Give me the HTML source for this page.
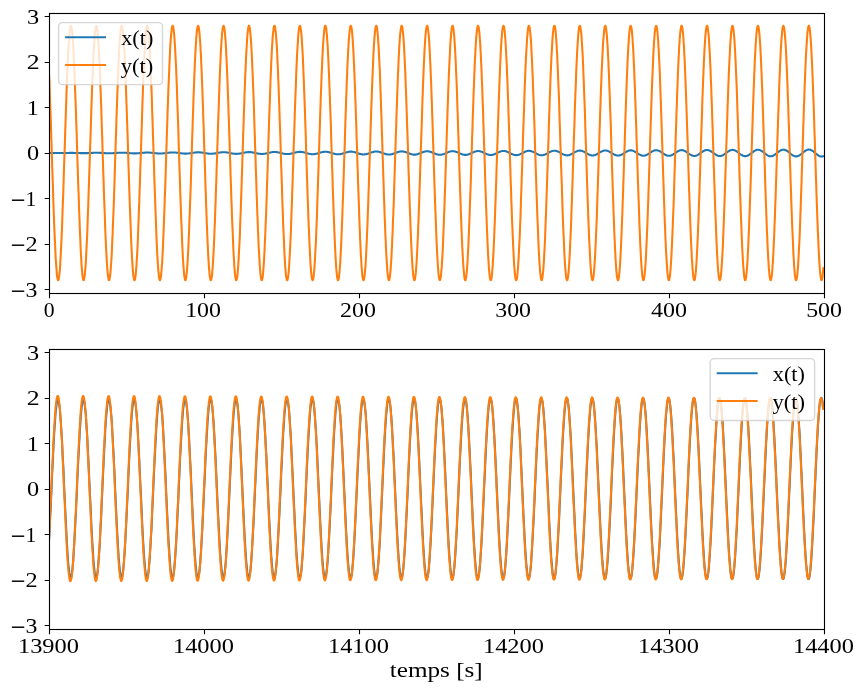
<!DOCTYPE html>
<html><head><meta charset="utf-8"><title>x(t), y(t)</title>
<style>html,body{margin:0;padding:0;background:#fff;width:864px;height:690px;overflow:hidden}
svg{display:block}
.t{font-family:"Liberation Serif",serif;fill:#000;filter:grayscale(100%)}</style></head>
<body>
<svg width="864" height="690" viewBox="0 0 864 690">
<rect width="864" height="690" fill="#fff"/>
<clipPath id="c13"><rect x="49" y="13" width="776" height="280"/></clipPath>
<g clip-path="url(#c13)" fill="none" stroke-width="2.08" stroke-linecap="square" stroke-linejoin="round">
<path stroke="#1f77b4" d="M49.00 153.00 L49.4 153.00 49.7 153.00 50.0 153.00 50.4 153.00 50.8 153.00 51.1 153.00 51.5 153.00 51.8 153.00 52.1 153.00 52.5 153.00 52.9 153.00 53.2 153.01 53.5 153.01 53.9 153.01 54.2 153.01 54.6 153.02 55.0 153.02 55.3 153.02 55.6 153.02 56.0 153.03 56.4 153.03 56.7 153.03 57.0 153.04 57.4 153.04 57.8 153.04 58.1 153.04 58.5 153.04 58.8 153.04 59.1 153.04 59.5 153.05 59.9 153.05 60.2 153.04 60.5 153.04 60.9 153.04 61.2 153.04 61.6 153.04 62.0 153.03 62.3 153.03 62.6 153.03 63.0 153.02 63.4 153.02 63.7 153.01 64.0 153.01 64.4 153.00 64.8 153.00 65.1 152.99 65.5 152.98 65.8 152.98 66.2 152.97 66.5 152.96 66.8 152.96 67.2 152.95 67.5 152.94 67.9 152.94 68.2 152.93 68.6 152.92 69.0 152.92 69.3 152.91 69.7 152.91 70.0 152.91 70.3 152.90 70.7 152.90 71.0 152.90 71.4 152.90 71.8 152.90 72.1 152.90 72.5 152.90 72.8 152.90 73.2 152.91 73.5 152.91 73.8 152.92 74.2 152.92 74.5 152.93 74.9 152.94 75.2 152.94 75.6 152.95 76.0 152.96 76.3 152.97 76.7 152.98 77.0 152.99 77.3 153.00 77.7 153.01 78.0 153.03 78.4 153.04 78.8 153.05 79.1 153.06 79.5 153.07 79.8 153.08 80.2 153.09 80.5 153.10 80.8 153.11 81.2 153.12 81.5 153.13 81.9 153.14 82.2 153.14 82.6 153.15 82.9 153.15 83.3 153.16 83.7 153.16 84.0 153.16 84.3 153.16 84.7 153.16 85.0 153.15 85.4 153.15 85.8 153.14 86.1 153.14 86.4 153.13 86.8 153.12 87.2 153.11 87.5 153.10 87.8 153.09 88.2 153.08 88.5 153.06 88.9 153.05 89.2 153.03 89.6 153.02 89.9 153.00 90.3 152.98 90.7 152.97 91.0 152.95 91.3 152.94 91.7 152.92 92.0 152.90 92.4 152.89 92.8 152.87 93.1 152.86 93.4 152.85 93.8 152.83 94.2 152.82 94.5 152.81 94.8 152.81 95.2 152.80 95.5 152.79 95.9 152.79 96.2 152.79 96.6 152.78 96.9 152.78 97.3 152.79 97.7 152.79 98.0 152.80 98.3 152.80 98.7 152.81 99.0 152.82 99.4 152.83 99.8 152.85 100.1 152.86 100.4 152.88 100.8 152.89 101.2 152.91 101.5 152.93 101.8 152.95 102.2 152.97 102.5 152.99 102.9 153.01 103.2 153.03 103.6 153.06 103.9 153.08 104.3 153.10 104.7 153.12 105.0 153.14 105.3 153.16 105.7 153.17 106.0 153.19 106.4 153.21 106.8 153.22 107.1 153.23 107.4 153.25 107.8 153.25 108.2 153.26 108.5 153.27 108.8 153.27 109.2 153.27 109.5 153.27 109.9 153.27 110.2 153.27 110.6 153.26 110.9 153.25 111.3 153.24 111.7 153.23 112.0 153.21 112.3 153.20 112.7 153.18 113.0 153.16 113.4 153.14 113.8 153.12 114.1 153.09 114.5 153.07 114.8 153.05 115.1 153.02 115.5 152.99 115.8 152.97 116.2 152.94 116.5 152.91 116.9 152.89 117.2 152.86 117.6 152.84 117.9 152.82 118.3 152.79 118.6 152.77 119.0 152.75 119.3 152.74 119.7 152.72 120.0 152.71 120.4 152.69 120.8 152.68 121.1 152.68 121.4 152.67 121.8 152.67 122.1 152.67 122.5 152.67 122.8 152.68 123.2 152.68 123.5 152.69 123.9 152.71 124.2 152.72 124.6 152.74 124.9 152.76 125.3 152.78 125.6 152.80 126.0 152.82 126.3 152.85 126.7 152.88 127.0 152.91 127.4 152.94 127.8 152.97 128.1 153.00 128.4 153.03 128.8 153.06 129.1 153.09 129.5 153.12 129.8 153.15 130.2 153.18 130.6 153.21 130.9 153.23 131.2 153.26 131.6 153.28 131.9 153.30 132.3 153.32 132.6 153.34 133.0 153.36 133.3 153.37 133.7 153.38 134.1 153.38 134.4 153.39 134.8 153.39 135.1 153.39 135.4 153.38 135.8 153.37 136.1 153.36 136.5 153.35 136.8 153.33 137.2 153.31 137.6 153.29 137.9 153.27 138.2 153.24 138.6 153.22 138.9 153.19 139.3 153.15 139.6 153.12 140.0 153.09 140.3 153.05 140.7 153.02 141.1 152.98 141.4 152.94 141.8 152.91 142.1 152.87 142.4 152.84 142.8 152.80 143.1 152.77 143.5 152.74 143.8 152.71 144.2 152.68 144.6 152.66 144.9 152.63 145.2 152.61 145.6 152.60 145.9 152.58 146.3 152.57 146.6 152.56 147.0 152.56 147.3 152.55 147.7 152.55 148.1 152.56 148.4 152.57 148.8 152.58 149.1 152.59 149.4 152.61 149.8 152.63 150.1 152.66 150.5 152.68 150.8 152.71 151.2 152.74 151.6 152.78 151.9 152.81 152.2 152.85 152.6 152.89 152.9 152.93 153.3 152.97 153.6 153.01 154.0 153.05 154.3 153.09 154.7 153.13 155.1 153.17 155.4 153.21 155.8 153.25 156.1 153.28 156.4 153.32 156.8 153.35 157.1 153.38 157.5 153.41 157.8 153.43 158.2 153.45 158.6 153.47 158.9 153.48 159.2 153.49 159.6 153.50 159.9 153.50 160.3 153.50 160.6 153.50 161.0 153.49 161.3 153.48 161.7 153.46 162.1 153.45 162.4 153.42 162.8 153.40 163.1 153.37 163.4 153.34 163.8 153.30 164.1 153.27 164.5 153.23 164.8 153.19 165.2 153.14 165.6 153.10 165.9 153.05 166.2 153.01 166.6 152.96 166.9 152.92 167.3 152.87 167.6 152.82 168.0 152.78 168.3 152.74 168.7 152.70 169.1 152.66 169.4 152.62 169.8 152.59 170.1 152.56 170.4 152.53 170.8 152.50 171.1 152.48 171.5 152.47 171.8 152.45 172.2 152.44 172.6 152.44 172.9 152.44 173.2 152.44 173.6 152.45 173.9 152.46 174.3 152.48 174.6 152.50 175.0 152.52 175.3 152.55 175.7 152.58 176.1 152.61 176.4 152.65 176.8 152.69 177.1 152.73 177.4 152.78 177.8 152.82 178.2 152.87 178.5 152.92 178.8 152.97 179.2 153.02 179.5 153.08 179.9 153.13 180.2 153.18 180.6 153.23 180.9 153.27 181.3 153.32 181.7 153.36 182.0 153.40 182.3 153.44 182.7 153.48 183.0 153.51 183.4 153.54 183.8 153.56 184.1 153.58 184.4 153.60 184.8 153.61 185.1 153.62 185.5 153.62 185.8 153.62 186.2 153.61 186.5 153.60 186.9 153.58 187.2 153.56 187.6 153.54 187.9 153.51 188.3 153.48 188.6 153.44 189.0 153.40 189.3 153.36 189.7 153.31 190.0 153.26 190.4 153.21 190.8 153.16 191.1 153.10 191.4 153.05 191.8 152.99 192.1 152.94 192.5 152.88 192.8 152.83 193.2 152.77 193.5 152.72 193.9 152.67 194.2 152.62 194.6 152.57 194.9 152.53 195.3 152.49 195.6 152.45 196.0 152.42 196.3 152.39 196.7 152.37 197.0 152.35 197.4 152.34 197.8 152.33 198.1 152.32 198.4 152.32 198.8 152.33 199.1 152.34 199.5 152.36 199.8 152.38 200.2 152.40 200.5 152.43 200.9 152.47 201.2 152.51 201.6 152.55 201.9 152.59 202.3 152.64 202.6 152.70 203.0 152.75 203.3 152.81 203.7 152.87 204.0 152.93 204.4 152.99 204.8 153.05 205.1 153.11 205.4 153.17 205.8 153.23 206.1 153.29 206.5 153.34 206.8 153.40 207.2 153.45 207.5 153.50 207.9 153.54 208.2 153.58 208.6 153.62 208.9 153.65 209.3 153.68 209.6 153.70 210.0 153.72 210.3 153.73 210.7 153.73 211.0 153.74 211.4 153.73 211.8 153.72 212.1 153.71 212.4 153.68 212.8 153.66 213.1 153.63 213.5 153.59 213.8 153.55 214.2 153.51 214.5 153.46 214.9 153.41 215.2 153.35 215.6 153.29 215.9 153.23 216.3 153.17 216.6 153.10 217.0 153.04 217.3 152.97 217.7 152.91 218.0 152.84 218.4 152.78 218.8 152.71 219.1 152.65 219.4 152.59 219.8 152.54 220.1 152.48 220.5 152.43 220.8 152.39 221.2 152.35 221.5 152.31 221.9 152.28 222.2 152.25 222.6 152.23 222.9 152.22 223.3 152.21 223.6 152.21 224.0 152.21 224.3 152.22 224.7 152.23 225.0 152.25 225.4 152.28 225.8 152.31 226.1 152.35 226.4 152.39 226.8 152.44 227.1 152.49 227.5 152.54 227.8 152.60 228.2 152.66 228.5 152.73 228.9 152.80 229.2 152.86 229.6 152.93 229.9 153.01 230.3 153.08 230.6 153.15 231.0 153.22 231.3 153.29 231.7 153.35 232.0 153.42 232.4 153.48 232.8 153.54 233.1 153.59 233.4 153.64 233.8 153.69 234.1 153.73 234.5 153.76 234.8 153.79 235.2 153.82 235.5 153.83 235.9 153.85 236.2 153.85 236.6 153.85 236.9 153.84 237.3 153.83 237.6 153.81 238.0 153.78 238.3 153.75 238.7 153.71 239.0 153.67 239.4 153.62 239.8 153.57 240.1 153.51 240.4 153.45 240.8 153.38 241.1 153.32 241.5 153.24 241.8 153.17 242.2 153.10 242.5 153.02 242.9 152.95 243.2 152.87 243.6 152.79 243.9 152.72 244.3 152.65 244.6 152.58 245.0 152.51 245.3 152.45 245.7 152.39 246.0 152.33 246.4 152.28 246.8 152.24 247.1 152.20 247.4 152.16 247.8 152.14 248.1 152.12 248.5 152.10 248.8 152.09 249.2 152.09 249.5 152.10 249.9 152.11 250.2 152.13 250.6 152.15 250.9 152.19 251.3 152.22 251.6 152.27 252.0 152.32 252.3 152.37 252.7 152.43 253.0 152.50 253.4 152.57 253.8 152.64 254.1 152.71 254.4 152.79 254.8 152.87 255.1 152.95 255.5 153.03 255.8 153.11 256.2 153.19 256.5 153.27 256.9 153.35 257.2 153.42 257.6 153.50 257.9 153.56 258.3 153.63 258.6 153.69 259.0 153.75 259.4 153.80 259.7 153.84 260.0 153.88 260.4 153.91 260.8 153.93 261.1 153.95 261.4 153.96 261.8 153.97 262.1 153.96 262.5 153.95 262.9 153.94 263.2 153.91 263.5 153.88 263.9 153.84 264.2 153.80 264.6 153.74 264.9 153.69 265.3 153.63 265.6 153.56 266.0 153.49 266.4 153.41 266.7 153.33 267.0 153.25 267.4 153.17 267.8 153.08 268.1 153.00 268.4 152.91 268.8 152.83 269.1 152.74 269.5 152.66 269.9 152.58 270.2 152.50 270.5 152.43 270.9 152.36 271.2 152.29 271.6 152.23 271.9 152.17 272.3 152.13 272.6 152.08 273.0 152.05 273.4 152.02 273.7 152.00 274.0 151.98 274.4 151.98 274.8 151.98 275.1 151.99 275.4 152.00 275.8 152.03 276.1 152.06 276.5 152.09 276.9 152.14 277.2 152.19 277.5 152.25 277.9 152.31 278.2 152.38 278.6 152.46 278.9 152.53 279.3 152.62 279.6 152.70 280.0 152.79 280.4 152.88 280.7 152.97 281.0 153.06 281.4 153.15 281.8 153.24 282.1 153.33 282.4 153.42 282.8 153.50 283.1 153.58 283.5 153.66 283.9 153.73 284.2 153.79 284.5 153.85 284.9 153.91 285.2 153.95 285.6 153.99 285.9 154.03 286.3 154.05 286.6 154.07 287.0 154.08 287.4 154.08 287.7 154.08 288.0 154.06 288.4 154.04 288.8 154.01 289.1 153.97 289.4 153.93 289.8 153.87 290.1 153.81 290.5 153.75 290.9 153.68 291.2 153.60 291.5 153.52 291.9 153.44 292.2 153.35 292.6 153.26 292.9 153.16 293.3 153.07 293.6 152.97 294.0 152.87 294.4 152.78 294.7 152.68 295.0 152.59 295.4 152.50 295.8 152.42 296.1 152.34 296.4 152.26 296.8 152.19 297.1 152.12 297.5 152.06 297.9 152.01 298.2 151.97 298.5 151.93 298.9 151.90 299.2 151.88 299.6 151.86 299.9 151.86 300.3 151.86 300.6 151.88 301.0 151.90 301.4 151.93 301.7 151.96 302.0 152.01 302.4 152.06 302.8 152.12 303.1 152.19 303.4 152.26 303.8 152.34 304.1 152.42 304.5 152.51 304.9 152.60 305.2 152.70 305.6 152.80 305.9 152.89 306.2 153.00 306.6 153.10 306.9 153.20 307.3 153.30 307.6 153.39 308.0 153.49 308.3 153.58 308.7 153.67 309.1 153.75 309.4 153.83 309.8 153.90 310.1 153.96 310.4 154.02 310.8 154.07 311.1 154.11 311.5 154.15 311.8 154.17 312.2 154.19 312.6 154.20 312.9 154.20 313.2 154.19 313.6 154.17 313.9 154.14 314.3 154.10 314.6 154.06 315.0 154.01 315.3 153.95 315.7 153.88 316.1 153.81 316.4 153.72 316.8 153.64 317.1 153.55 317.4 153.45 317.8 153.35 318.1 153.25 318.5 153.15 318.8 153.04 319.2 152.94 319.5 152.83 319.9 152.73 320.2 152.62 320.6 152.52 320.9 152.42 321.3 152.33 321.6 152.24 322.0 152.16 322.3 152.08 322.7 152.01 323.0 151.95 323.4 151.89 323.8 151.85 324.1 151.81 324.4 151.78 324.8 151.76 325.1 151.75 325.5 151.74 325.8 151.75 326.2 151.77 326.5 151.79 326.9 151.83 327.2 151.87 327.6 151.92 327.9 151.98 328.3 152.05 328.6 152.13 329.0 152.21 329.3 152.30 329.7 152.39 330.0 152.49 330.4 152.59 330.8 152.70 331.1 152.81 331.4 152.92 331.8 153.03 332.1 153.14 332.5 153.25 332.8 153.36 333.2 153.46 333.5 153.57 333.9 153.67 334.2 153.76 334.6 153.85 334.9 153.93 335.3 154.01 335.6 154.08 336.0 154.14 336.3 154.19 336.7 154.23 337.0 154.27 337.4 154.29 337.8 154.31 338.1 154.31 338.4 154.31 338.8 154.30 339.1 154.27 339.5 154.24 339.8 154.20 340.2 154.15 340.5 154.09 340.9 154.02 341.2 153.94 341.6 153.86 341.9 153.77 342.3 153.67 342.6 153.57 343.0 153.46 343.3 153.35 343.7 153.24 344.0 153.13 344.4 153.01 344.8 152.90 345.1 152.78 345.4 152.67 345.8 152.55 346.1 152.45 346.5 152.34 346.8 152.24 347.2 152.14 347.5 152.06 347.9 151.97 348.2 151.90 348.6 151.83 348.9 151.78 349.3 151.73 349.6 151.69 350.0 151.66 350.3 151.64 350.7 151.63 351.0 151.63 351.4 151.64 351.8 151.66 352.1 151.69 352.4 151.73 352.8 151.78 353.1 151.84 353.5 151.91 353.8 151.99 354.2 152.07 354.5 152.17 354.9 152.26 355.2 152.37 355.6 152.48 355.9 152.59 356.3 152.71 356.6 152.82 357.0 152.95 357.3 153.07 357.7 153.19 358.0 153.31 358.4 153.42 358.8 153.54 359.1 153.65 359.4 153.76 359.8 153.86 360.1 153.95 360.5 154.04 360.8 154.12 361.2 154.19 361.5 154.26 361.9 154.31 362.2 154.35 362.6 154.39 362.9 154.41 363.3 154.43 363.6 154.43 364.0 154.42 364.3 154.40 364.7 154.37 365.0 154.34 365.4 154.29 365.8 154.23 366.1 154.16 366.4 154.08 366.8 154.00 367.1 153.90 367.5 153.80 367.8 153.70 368.2 153.59 368.5 153.47 368.9 153.35 369.2 153.23 369.6 153.10 369.9 152.98 370.3 152.85 370.6 152.72 371.0 152.60 371.3 152.48 371.7 152.36 372.0 152.25 372.4 152.14 372.8 152.04 373.1 151.95 373.4 151.86 373.8 151.78 374.1 151.72 374.5 151.66 374.8 151.61 375.2 151.57 375.5 151.54 375.9 151.52 376.2 151.51 376.6 151.52 376.9 151.53 377.3 151.56 377.6 151.60 378.0 151.64 378.3 151.70 378.7 151.77 379.0 151.85 379.4 151.93 379.8 152.03 380.1 152.13 380.4 152.24 380.8 152.35 381.1 152.47 381.5 152.59 381.8 152.72 382.2 152.85 382.5 152.98 382.9 153.11 383.2 153.24 383.6 153.37 383.9 153.50 384.3 153.62 384.6 153.74 385.0 153.85 385.3 153.96 385.7 154.06 386.0 154.15 386.4 154.24 386.8 154.31 387.1 154.38 387.4 154.43 387.8 154.48 388.1 154.51 388.5 154.53 388.8 154.54 389.2 154.54 389.5 154.53 389.9 154.51 390.2 154.47 390.6 154.43 390.9 154.37 391.3 154.30 391.6 154.23 392.0 154.14 392.3 154.05 392.7 153.94 393.0 153.83 393.4 153.72 393.8 153.60 394.1 153.47 394.4 153.34 394.8 153.20 395.1 153.07 395.5 152.93 395.8 152.80 396.2 152.66 396.5 152.53 396.9 152.40 397.2 152.28 397.6 152.16 397.9 152.04 398.3 151.94 398.6 151.84 399.0 151.75 399.3 151.67 399.7 151.59 400.0 151.53 400.4 151.48 400.8 151.44 401.1 151.42 401.4 151.40 401.8 151.40 402.1 151.41 402.5 151.43 402.8 151.46 403.2 151.50 403.5 151.56 403.9 151.62 404.2 151.70 404.6 151.78 404.9 151.88 405.3 151.98 405.6 152.09 406.0 152.21 406.3 152.34 406.7 152.47 407.0 152.60 407.4 152.74 407.8 152.88 408.1 153.02 408.4 153.16 408.8 153.30 409.1 153.44 409.5 153.57 409.8 153.70 410.2 153.83 410.5 153.95 410.9 154.06 411.2 154.17 411.6 154.27 411.9 154.35 412.3 154.43 412.6 154.50 413.0 154.55 413.3 154.60 413.7 154.63 414.0 154.65 414.4 154.66 414.8 154.66 415.1 154.64 415.4 154.61 415.8 154.57 416.1 154.52 416.5 154.45 416.8 154.38 417.2 154.29 417.5 154.20 417.9 154.09 418.2 153.98 418.6 153.86 418.9 153.73 419.3 153.60 419.6 153.46 420.0 153.32 420.3 153.18 420.7 153.03 421.0 152.89 421.4 152.74 421.8 152.60 422.1 152.46 422.4 152.32 422.8 152.19 423.1 152.06 423.5 151.94 423.8 151.83 424.2 151.72 424.5 151.63 424.9 151.55 425.2 151.47 425.6 151.41 425.9 151.36 426.3 151.32 426.6 151.30 427.0 151.28 427.3 151.28 427.7 151.30 428.0 151.32 428.4 151.36 428.8 151.41 429.1 151.47 429.4 151.54 429.8 151.63 430.1 151.72 430.5 151.83 430.8 151.94 431.2 152.07 431.5 152.19 431.9 152.33 432.2 152.47 432.6 152.62 432.9 152.76 433.3 152.91 433.6 153.06 434.0 153.22 434.3 153.37 434.7 153.51 435.0 153.66 435.4 153.79 435.8 153.93 436.1 154.05 436.4 154.17 436.8 154.28 437.1 154.38 437.5 154.47 437.8 154.55 438.2 154.62 438.5 154.68 438.9 154.72 439.2 154.75 439.6 154.77 439.9 154.78 440.3 154.77 440.6 154.75 441.0 154.71 441.3 154.66 441.7 154.60 442.0 154.53 442.4 154.45 442.8 154.35 443.1 154.25 443.4 154.13 443.8 154.01 444.1 153.88 444.5 153.74 444.8 153.60 445.2 153.45 445.5 153.30 445.9 153.14 446.2 152.99 446.6 152.83 446.9 152.68 447.3 152.52 447.6 152.37 448.0 152.23 448.3 152.09 448.7 151.96 449.0 151.83 449.4 151.71 449.8 151.61 450.1 151.51 450.4 151.42 450.8 151.35 451.1 151.29 451.5 151.24 451.8 151.20 452.2 151.18 452.5 151.17 452.9 151.17 453.2 151.19 453.6 151.22 453.9 151.26 454.3 151.32 454.6 151.39 455.0 151.47 455.3 151.57 455.7 151.67 456.0 151.79 456.4 151.91 456.8 152.04 457.1 152.18 457.4 152.33 457.8 152.48 458.1 152.64 458.5 152.80 458.8 152.96 459.2 153.12 459.5 153.28 459.9 153.44 460.2 153.59 460.6 153.74 460.9 153.89 461.3 154.03 461.6 154.16 462.0 154.28 462.3 154.40 462.7 154.50 463.0 154.60 463.4 154.68 463.8 154.75 464.1 154.80 464.4 154.85 464.8 154.88 465.1 154.89 465.5 154.89 465.8 154.88 466.2 154.85 466.5 154.81 466.9 154.75 467.2 154.69 467.6 154.61 467.9 154.51 468.3 154.41 468.6 154.29 469.0 154.17 469.3 154.04 469.7 153.89 470.0 153.75 470.4 153.59 470.8 153.43 471.1 153.27 471.4 153.10 471.8 152.94 472.1 152.77 472.5 152.61 472.8 152.45 473.2 152.29 473.5 152.14 473.9 151.99 474.2 151.85 474.6 151.72 474.9 151.60 475.3 151.49 475.6 151.39 476.0 151.30 476.3 151.22 476.7 151.16 477.0 151.11 477.4 151.08 477.8 151.06 478.1 151.05 478.4 151.06 478.8 151.08 479.1 151.12 479.5 151.17 479.8 151.24 480.2 151.31 480.5 151.41 480.9 151.51 481.2 151.62 481.6 151.75 481.9 151.88 482.3 152.03 482.6 152.18 483.0 152.33 483.3 152.50 483.7 152.66 484.0 152.83 484.4 153.00 484.8 153.17 485.1 153.34 485.4 153.51 485.8 153.68 486.1 153.83 486.5 153.99 486.8 154.13 487.2 154.27 487.5 154.40 487.9 154.52 488.2 154.63 488.6 154.72 488.9 154.80 489.3 154.87 489.6 154.93 490.0 154.97 490.3 155.00 490.7 155.01 491.0 155.00 491.4 154.99 491.8 154.95 492.1 154.90 492.4 154.84 492.8 154.77 493.1 154.68 493.5 154.57 493.8 154.46 494.2 154.33 494.5 154.20 494.9 154.06 495.2 153.90 495.6 153.74 495.9 153.58 496.3 153.41 496.6 153.23 497.0 153.06 497.3 152.88 497.7 152.71 498.0 152.53 498.4 152.36 498.7 152.20 499.1 152.04 499.4 151.88 499.8 151.74 500.1 151.60 500.5 151.48 500.8 151.36 501.2 151.26 501.5 151.17 501.9 151.10 502.2 151.03 502.6 150.99 502.9 150.95 503.3 150.94 503.6 150.94 504.0 150.95 504.3 150.98 504.7 151.02 505.0 151.08 505.4 151.15 505.7 151.24 506.1 151.34 506.4 151.46 506.8 151.58 507.1 151.72 507.5 151.86 507.8 152.02 508.2 152.18 508.5 152.35 508.9 152.52 509.2 152.70 509.6 152.88 509.9 153.06 510.3 153.24 510.6 153.42 511.0 153.59 511.3 153.77 511.7 153.93 512.0 154.09 512.4 154.24 512.8 154.39 513.1 154.52 513.5 154.64 513.8 154.75 514.1 154.85 514.5 154.93 514.8 155.00 515.2 155.05 515.5 155.09 515.9 155.12 516.2 155.12 516.6 155.12 517.0 155.09 517.3 155.05 517.6 155.00 518.0 154.93 518.3 154.84 518.7 154.74 519.0 154.63 519.4 154.51 519.8 154.37 520.1 154.22 520.5 154.07 520.8 153.90 521.1 153.73 521.5 153.56 521.8 153.38 522.2 153.19 522.5 153.01 522.9 152.82 523.2 152.64 523.6 152.45 524.0 152.28 524.3 152.10 524.6 151.94 525.0 151.78 525.3 151.63 525.7 151.48 526.0 151.36 526.4 151.24 526.8 151.13 527.1 151.04 527.5 150.97 527.8 150.91 528.1 150.86 528.5 150.83 528.8 150.82 529.2 150.82 529.5 150.84 529.9 150.88 530.2 150.93 530.6 151.00 531.0 151.08 531.3 151.17 531.6 151.28 532.0 151.41 532.3 151.54 532.7 151.69 533.0 151.85 533.4 152.01 533.8 152.18 534.1 152.36 534.5 152.55 534.8 152.73 535.1 152.92 535.5 153.12 535.8 153.31 536.2 153.49 536.5 153.68 536.9 153.86 537.2 154.03 537.6 154.20 538.0 154.36 538.3 154.51 538.6 154.64 539.0 154.77 539.3 154.88 539.7 154.98 540.0 155.06 540.4 155.13 540.8 155.18 541.1 155.22 541.5 155.24 541.8 155.24 542.1 155.22 542.5 155.19 542.8 155.15 543.2 155.08 543.5 155.00 543.9 154.91 544.2 154.80 544.6 154.68 545.0 154.55 545.3 154.40 545.6 154.24 546.0 154.08 546.3 153.90 546.7 153.72 547.0 153.53 547.4 153.34 547.8 153.15 548.1 152.95 548.5 152.75 548.8 152.56 549.1 152.37 549.5 152.18 549.8 152.00 550.2 151.83 550.5 151.66 550.9 151.51 551.2 151.36 551.6 151.23 552.0 151.11 552.3 151.01 552.6 150.91 553.0 150.84 553.3 150.78 553.7 150.74 554.0 150.71 554.4 150.70 554.8 150.71 555.1 150.74 555.5 150.78 555.8 150.84 556.1 150.91 556.5 151.00 556.8 151.11 557.2 151.23 557.5 151.36 557.9 151.51 558.2 151.67 558.6 151.83 559.0 152.01 559.3 152.20 559.6 152.39 560.0 152.58 560.3 152.78 560.7 152.98 561.0 153.18 561.4 153.38 561.8 153.58 562.1 153.77 562.4 153.96 562.8 154.14 563.1 154.31 563.5 154.48 563.9 154.63 564.2 154.77 564.5 154.90 564.9 155.01 565.2 155.11 565.6 155.19 565.9 155.26 566.3 155.31 566.6 155.34 567.0 155.35 567.4 155.35 567.7 155.33 568.0 155.29 568.4 155.24 568.8 155.17 569.1 155.08 569.4 154.98 569.8 154.86 570.1 154.73 570.5 154.58 570.9 154.42 571.2 154.26 571.5 154.08 571.9 153.89 572.2 153.70 572.6 153.50 572.9 153.30 573.3 153.09 573.6 152.89 574.0 152.68 574.4 152.48 574.7 152.28 575.0 152.08 575.4 151.90 575.8 151.72 576.1 151.55 576.4 151.39 576.8 151.24 577.1 151.10 577.5 150.98 577.9 150.87 578.2 150.78 578.5 150.71 578.9 150.65 579.2 150.61 579.6 150.59 579.9 150.59 580.3 150.60 580.6 150.63 581.0 150.68 581.4 150.75 581.7 150.83 582.0 150.94 582.4 151.05 582.8 151.18 583.1 151.33 583.4 151.48 583.8 151.65 584.1 151.83 584.5 152.02 584.9 152.21 585.2 152.41 585.5 152.62 585.9 152.83 586.2 153.04 586.6 153.25 586.9 153.46 587.3 153.67 587.6 153.87 588.0 154.06 588.3 154.25 588.7 154.43 589.0 154.60 589.4 154.75 589.8 154.90 590.1 155.03 590.4 155.14 590.8 155.24 591.1 155.32 591.5 155.38 591.8 155.43 592.2 155.46 592.5 155.47 592.9 155.46 593.2 155.44 593.6 155.39 593.9 155.33 594.3 155.25 594.6 155.15 595.0 155.04 595.3 154.91 595.7 154.77 596.0 154.61 596.4 154.44 596.8 154.26 597.1 154.07 597.4 153.88 597.8 153.67 598.1 153.46 598.5 153.25 598.8 153.03 599.2 152.82 599.5 152.60 599.9 152.39 600.2 152.18 600.6 151.98 600.9 151.79 601.3 151.60 601.6 151.42 602.0 151.26 602.3 151.11 602.7 150.97 603.0 150.85 603.4 150.74 603.8 150.65 604.1 150.58 604.4 150.53 604.8 150.49 605.1 150.47 605.5 150.47 605.8 150.50 606.2 150.53 606.5 150.59 606.9 150.67 607.2 150.76 607.6 150.87 607.9 151.00 608.3 151.14 608.6 151.29 609.0 151.46 609.3 151.64 609.7 151.83 610.0 152.03 610.4 152.24 610.8 152.45 611.1 152.67 611.4 152.89 611.8 153.11 612.1 153.33 612.5 153.55 612.8 153.76 613.2 153.97 613.5 154.17 613.9 154.37 614.2 154.55 614.6 154.72 614.9 154.88 615.3 155.03 615.6 155.16 616.0 155.27 616.3 155.37 616.7 155.45 617.0 155.51 617.4 155.56 617.8 155.58 618.1 155.59 618.4 155.57 618.8 155.54 619.1 155.49 619.5 155.42 619.8 155.33 620.2 155.22 620.5 155.10 620.9 154.96 621.2 154.80 621.6 154.64 621.9 154.46 622.3 154.26 622.6 154.06 623.0 153.86 623.3 153.64 623.7 153.42 624.0 153.19 624.4 152.97 624.8 152.74 625.1 152.52 625.4 152.30 625.8 152.08 626.1 151.87 626.5 151.67 626.8 151.48 627.2 151.30 627.5 151.13 627.9 150.98 628.2 150.84 628.6 150.72 628.9 150.61 629.3 150.52 629.6 150.45 630.0 150.40 630.3 150.37 630.7 150.36 631.0 150.36 631.4 150.39 631.8 150.44 632.1 150.50 632.4 150.59 632.8 150.69 633.1 150.81 633.5 150.95 633.8 151.10 634.2 151.27 634.5 151.45 634.9 151.64 635.2 151.84 635.6 152.05 635.9 152.27 636.3 152.49 636.6 152.72 637.0 152.95 637.3 153.18 637.7 153.41 638.0 153.64 638.4 153.86 638.8 154.08 639.1 154.29 639.4 154.48 639.8 154.67 640.1 154.85 640.5 155.01 640.8 155.16 641.2 155.29 641.5 155.41 641.9 155.50 642.2 155.58 642.6 155.64 642.9 155.68 643.3 155.70 643.6 155.70 644.0 155.68 644.3 155.64 644.7 155.58 645.0 155.50 645.4 155.40 645.8 155.28 646.1 155.15 646.4 155.00 646.8 154.83 647.1 154.65 647.5 154.46 647.8 154.26 648.2 154.05 648.5 153.83 648.9 153.60 649.2 153.37 649.6 153.13 649.9 152.90 650.3 152.66 650.6 152.43 651.0 152.20 651.3 151.98 651.7 151.76 652.0 151.55 652.4 151.36 652.8 151.17 653.1 151.00 653.4 150.85 653.8 150.70 654.1 150.58 654.5 150.48 654.8 150.39 655.2 150.32 655.5 150.27 655.9 150.25 656.2 150.24 656.6 150.25 656.9 150.29 657.3 150.34 657.6 150.42 658.0 150.51 658.3 150.63 658.7 150.76 659.0 150.90 659.4 151.07 659.8 151.24 660.1 151.44 660.4 151.64 660.8 151.85 661.1 152.07 661.5 152.30 661.8 152.54 662.2 152.78 662.5 153.02 662.9 153.26 663.2 153.50 663.6 153.73 663.9 153.96 664.3 154.19 664.6 154.40 665.0 154.61 665.3 154.80 665.7 154.98 666.0 155.15 666.4 155.29 666.8 155.43 667.1 155.54 667.4 155.64 667.8 155.71 668.1 155.77 668.5 155.80 668.8 155.82 669.2 155.81 669.5 155.78 669.9 155.73 670.2 155.66 670.6 155.58 670.9 155.47 671.3 155.34 671.6 155.20 672.0 155.03 672.3 154.86 672.7 154.67 673.0 154.46 673.4 154.25 673.8 154.03 674.1 153.79 674.4 153.56 674.8 153.31 675.1 153.07 675.5 152.82 675.8 152.58 676.2 152.33 676.5 152.10 676.9 151.87 677.2 151.64 677.6 151.43 677.9 151.23 678.3 151.04 678.6 150.87 679.0 150.71 679.3 150.57 679.7 150.45 680.0 150.34 680.4 150.26 680.8 150.19 681.1 150.15 681.4 150.13 681.8 150.13 682.1 150.15 682.5 150.19 682.8 150.25 683.2 150.34 683.5 150.44 683.9 150.56 684.2 150.71 684.6 150.86 684.9 151.04 685.3 151.23 685.6 151.43 686.0 151.65 686.3 151.87 686.7 152.11 687.0 152.35 687.4 152.59 687.8 152.84 688.1 153.09 688.4 153.34 688.8 153.59 689.1 153.84 689.5 154.07 689.8 154.30 690.2 154.53 690.5 154.73 690.9 154.93 691.2 155.11 691.6 155.28 691.9 155.43 692.3 155.56 692.6 155.68 693.0 155.77 693.3 155.84 693.7 155.89 694.0 155.92 694.4 155.93 694.8 155.92 695.1 155.88 695.4 155.83 695.8 155.75 696.1 155.65 696.5 155.53 696.8 155.39 697.2 155.24 697.5 155.07 697.9 154.88 698.2 154.67 698.6 154.46 698.9 154.23 699.3 154.00 699.6 153.75 700.0 153.50 700.3 153.25 700.7 153.00 701.0 152.74 701.4 152.49 701.8 152.23 702.1 151.99 702.4 151.75 702.8 151.52 703.1 151.30 703.5 151.10 703.8 150.91 704.2 150.73 704.5 150.57 704.9 150.43 705.2 150.31 705.6 150.21 705.9 150.12 706.3 150.06 706.6 150.03 707.0 150.01 707.3 150.02 707.7 150.04 708.0 150.09 708.4 150.17 708.8 150.26 709.1 150.37 709.4 150.51 709.8 150.66 710.1 150.83 710.5 151.02 710.8 151.22 711.2 151.43 711.5 151.66 711.9 151.90 712.2 152.14 712.6 152.40 712.9 152.65 713.3 152.91 713.6 153.17 714.0 153.43 714.3 153.69 714.7 153.94 715.0 154.19 715.4 154.42 715.8 154.65 716.1 154.87 716.4 155.07 716.8 155.25 717.1 155.42 717.5 155.57 717.8 155.70 718.2 155.81 718.5 155.90 718.9 155.97 719.2 156.02 719.6 156.05 719.9 156.05 720.3 156.03 720.6 155.98 721.0 155.92 721.3 155.83 721.7 155.72 722.0 155.59 722.4 155.44 722.8 155.27 723.1 155.09 723.4 154.89 723.8 154.68 724.1 154.45 724.5 154.21 724.8 153.96 725.2 153.71 725.5 153.45 725.9 153.18 726.2 152.92 726.6 152.65 726.9 152.39 727.3 152.13 727.6 151.88 728.0 151.63 728.3 151.40 728.7 151.17 729.0 150.97 729.4 150.77 729.8 150.59 730.1 150.43 730.4 150.29 730.8 150.17 731.1 150.07 731.5 149.99 731.8 149.94 732.2 149.90 732.5 149.89 732.9 149.91 733.2 149.94 733.6 150.00 733.9 150.08 734.3 150.19 734.6 150.31 735.0 150.46 735.3 150.62 735.7 150.80 736.0 151.00 736.4 151.21 736.8 151.44 737.1 151.68 737.4 151.93 737.8 152.19 738.1 152.45 738.5 152.72 738.8 152.99 739.2 153.26 739.5 153.53 739.9 153.79 740.2 154.05 740.6 154.31 740.9 154.55 741.3 154.78 741.6 155.00 742.0 155.20 742.3 155.39 742.7 155.56 743.0 155.71 743.4 155.84 743.8 155.95 744.1 156.04 744.4 156.10 744.8 156.15 745.1 156.16 745.5 156.16 745.8 156.13 746.2 156.08 746.5 156.00 746.9 155.90 747.2 155.79 747.6 155.65 747.9 155.48 748.3 155.31 748.6 155.11 749.0 154.90 749.3 154.67 749.7 154.43 750.0 154.18 750.4 153.92 750.8 153.65 751.1 153.38 751.4 153.11 751.8 152.83 752.1 152.56 752.5 152.29 752.8 152.02 753.2 151.76 753.5 151.51 753.9 151.27 754.2 151.04 754.6 150.83 754.9 150.63 755.3 150.45 755.6 150.29 756.0 150.15 756.3 150.03 756.7 149.93 757.0 149.86 757.4 149.81 757.8 149.78 758.1 149.78 758.4 149.80 758.8 149.84 759.1 149.91 759.5 150.00 759.8 150.12 760.2 150.25 760.5 150.41 760.9 150.59 761.2 150.78 761.6 150.99 761.9 151.22 762.3 151.46 762.6 151.71 763.0 151.97 763.3 152.24 763.7 152.51 764.0 152.79 764.4 153.07 764.8 153.35 765.1 153.63 765.4 153.90 765.8 154.17 766.1 154.43 766.5 154.68 766.8 154.91 767.2 155.14 767.5 155.34 767.9 155.53 768.2 155.70 768.6 155.85 768.9 155.98 769.3 156.09 769.6 156.17 770.0 156.23 770.3 156.27 770.7 156.28 771.0 156.27 771.4 156.23 771.8 156.17 772.1 156.08 772.4 155.98 772.8 155.85 773.1 155.69 773.5 155.52 773.8 155.33 774.2 155.12 774.5 154.90 774.9 154.66 775.2 154.41 775.6 154.15 775.9 153.87 776.3 153.60 776.6 153.31 777.0 153.03 777.3 152.74 777.7 152.46 778.0 152.18 778.4 151.90 778.8 151.64 779.1 151.38 779.4 151.13 779.8 150.90 780.1 150.69 780.5 150.49 780.8 150.31 781.2 150.15 781.5 150.01 781.9 149.89 782.2 149.80 782.6 149.73 782.9 149.68 783.3 149.66 783.6 149.67 784.0 149.70 784.3 149.75 784.7 149.83 785.0 149.93 785.4 150.05 785.8 150.20 786.1 150.37 786.4 150.56 786.8 150.76 787.1 150.99 787.5 151.22 787.8 151.48 788.2 151.74 788.5 152.01 788.9 152.29 789.2 152.58 789.6 152.87 789.9 153.16 790.3 153.45 790.6 153.74 791.0 154.02 791.3 154.29 791.7 154.56 792.0 154.81 792.4 155.05 792.8 155.28 793.1 155.49 793.4 155.68 793.8 155.85 794.1 155.99 794.5 156.12 794.8 156.23 795.2 156.30 795.5 156.36 795.9 156.39 796.2 156.39 796.6 156.37 796.9 156.33 797.3 156.26 797.6 156.16 798.0 156.04 798.3 155.90 798.7 155.74 799.0 155.56 799.4 155.35 799.8 155.13 800.1 154.89 800.4 154.64 800.8 154.38 801.1 154.10 801.5 153.82 801.8 153.53 802.2 153.24 802.5 152.94 802.9 152.65 803.2 152.35 803.6 152.06 803.9 151.78 804.3 151.51 804.6 151.25 805.0 151.00 805.3 150.76 805.7 150.55 806.0 150.35 806.4 150.16 806.8 150.01 807.1 149.87 807.4 149.75 807.8 149.66 808.1 149.60 808.5 149.56 808.8 149.55 809.2 149.56 809.5 149.60 809.9 149.66 810.2 149.75 810.6 149.86 810.9 149.99 811.3 150.15 811.6 150.33 812.0 150.53 812.3 150.75 812.7 150.99 813.0 151.24 813.4 151.50 813.8 151.78 814.1 152.06 814.4 152.36 814.8 152.65 815.1 152.95 815.5 153.25 815.8 153.55 816.2 153.85 816.5 154.14 816.9 154.42 817.2 154.69 817.6 154.95 817.9 155.19 818.3 155.42 818.6 155.63 819.0 155.82 819.3 155.99 819.7 156.14 820.0 156.26 820.4 156.36 820.8 156.44 821.1 156.49 821.4 156.51 821.8 156.51 822.1 156.48 822.5 156.42 822.8 156.34 823.2 156.24 823.4 156.18"/>
<path stroke="#ff7f0e" d="M49.00 71.98 L49.4 80.75 49.7 90.07 50.0 99.85 50.4 110.03 50.8 120.53 51.1 131.27 51.5 142.18 51.8 153.16 52.1 164.15 52.5 175.05 52.9 185.79 53.2 196.28 53.5 206.45 53.9 216.22 54.2 225.52 54.6 234.27 55.0 242.42 55.3 249.91 55.6 256.67 56.0 262.65 56.4 267.82 56.7 272.13 57.0 275.55 57.4 278.06 57.8 279.63 58.1 280.26 58.5 279.94 58.8 278.67 59.1 276.46 59.5 273.33 59.9 269.31 60.2 264.41 60.5 258.69 60.9 252.17 61.2 244.92 61.6 236.97 62.0 228.41 62.3 219.28 62.6 209.65 63.0 199.60 63.4 189.21 63.7 178.54 64.0 167.68 64.4 156.72 64.8 145.72 65.1 134.78 65.5 123.98 65.8 113.39 66.2 103.10 66.5 93.18 66.8 83.71 67.2 74.75 67.5 66.38 67.9 58.65 68.2 51.63 68.6 45.37 69.0 39.91 69.3 35.29 69.7 31.55 70.0 28.72 70.3 26.82 70.7 25.85 71.0 25.84 71.4 26.77 71.8 28.65 72.1 31.46 72.5 35.17 72.8 39.76 73.2 45.20 73.5 51.44 73.8 58.44 74.2 66.15 74.5 74.50 74.9 83.44 75.2 92.90 75.6 102.81 76.0 113.09 76.3 123.67 76.7 134.47 77.0 145.41 77.3 156.40 77.7 167.37 78.0 178.23 78.4 188.90 78.8 199.31 79.1 209.37 79.5 219.01 79.8 228.15 80.2 236.74 80.5 244.70 80.8 251.97 81.2 258.51 81.5 264.26 81.9 269.18 82.2 273.23 82.6 276.39 82.9 278.62 83.3 279.92 83.7 280.26 84.0 279.66 84.3 278.12 84.7 275.64 85.0 272.24 85.4 267.96 85.8 262.81 86.1 256.85 86.4 250.11 86.8 242.65 87.2 234.52 87.5 225.77 87.8 216.49 88.2 206.73 88.5 196.57 88.9 186.09 89.2 175.36 89.6 164.46 89.9 153.48 90.3 142.49 90.7 131.58 91.0 120.84 91.3 110.33 91.7 100.14 92.0 90.34 92.4 81.01 92.8 72.22 93.1 64.04 93.4 56.51 93.8 49.71 94.2 43.68 94.5 38.46 94.8 34.10 95.2 30.62 95.5 28.06 95.9 26.43 96.2 25.75 96.6 26.02 96.9 27.23 97.3 29.38 97.7 32.46 98.0 36.43 98.3 41.28 98.7 46.96 99.0 53.43 99.4 60.64 99.8 68.54 100.1 77.08 100.4 86.18 100.8 95.77 101.2 105.80 101.5 116.18 101.8 126.83 102.2 137.68 102.5 148.64 102.9 159.64 103.2 170.58 103.6 181.40 103.9 192.00 104.3 202.31 104.7 212.25 105.0 221.75 105.3 230.74 105.7 239.15 106.0 246.91 106.4 253.98 106.8 260.29 107.1 265.80 107.4 270.46 107.8 274.25 108.2 277.14 108.5 279.10 108.8 280.12 109.2 280.19 109.5 279.31 109.9 277.48 110.2 274.73 110.6 271.07 110.9 266.53 111.3 261.14 111.7 254.94 112.0 247.99 112.3 240.32 112.7 232.00 113.0 223.10 113.4 213.67 113.8 203.78 114.1 193.52 114.5 182.96 114.8 172.17 115.1 161.24 115.5 150.24 115.8 139.27 116.2 128.40 116.5 117.71 116.9 107.29 117.2 97.21 117.6 87.54 117.9 78.37 118.3 69.75 118.6 61.75 119.0 54.43 119.3 47.85 119.7 42.05 120.0 37.09 120.4 32.98 120.8 29.77 121.1 27.49 121.4 26.13 121.8 25.73 122.1 26.28 122.5 27.77 122.8 30.19 123.2 33.54 123.5 37.77 123.9 42.86 124.2 48.78 124.6 55.47 124.9 62.90 125.3 70.99 125.6 79.70 126.0 88.95 126.3 98.68 126.7 108.82 127.0 119.29 127.4 130.01 127.8 140.90 128.1 151.88 128.4 162.87 128.8 173.78 129.1 184.54 129.5 195.07 129.8 205.28 130.2 215.10 130.6 224.45 130.9 233.28 131.2 241.50 131.6 249.07 131.9 255.91 132.3 261.99 132.6 267.26 133.0 271.67 133.3 275.20 133.7 277.81 134.1 279.50 134.4 280.24 134.8 280.03 135.1 278.87 135.4 276.77 135.8 273.75 136.1 269.82 136.5 265.03 136.8 259.40 137.2 252.97 137.6 245.80 137.9 237.94 138.2 229.44 138.6 220.37 138.9 210.80 139.3 200.80 139.6 190.44 140.0 179.80 140.3 168.96 140.7 158.00 141.1 147.01 141.4 136.06 141.8 125.23 142.1 114.62 142.4 104.29 142.8 94.32 143.1 84.79 143.5 75.77 143.8 67.33 144.2 59.52 144.6 52.42 144.9 46.06 145.2 40.50 145.6 35.79 145.9 31.94 146.3 29.00 146.6 26.99 147.0 25.92 147.3 25.79 147.7 26.62 148.1 28.38 148.4 31.08 148.8 34.69 149.1 39.18 149.4 44.52 149.8 50.67 150.1 57.59 150.5 65.21 150.8 73.49 151.2 82.37 151.6 91.77 151.9 101.63 152.2 111.87 152.6 122.42 152.9 133.20 153.3 144.12 153.6 155.11 154.0 166.09 154.3 176.97 154.7 187.67 155.1 198.11 155.4 208.21 155.8 217.90 156.1 227.11 156.4 235.76 156.8 243.80 157.1 251.16 157.5 257.78 157.8 263.63 158.2 268.65 158.6 272.80 158.9 276.06 159.2 278.41 159.6 279.81 159.9 280.27 160.3 279.78 160.6 278.35 161.0 275.97 161.3 272.69 161.7 268.50 162.1 263.46 162.4 257.59 162.8 250.94 163.1 243.56 163.4 235.50 163.8 226.83 164.1 217.60 164.5 207.90 164.8 197.78 165.2 187.33 165.6 176.63 165.9 165.75 166.2 154.77 166.6 143.78 166.9 132.86 167.3 122.08 167.6 111.54 168.0 101.31 168.3 91.47 168.7 82.08 169.1 73.22 169.4 64.96 169.8 57.36 170.1 50.47 170.4 44.34 170.8 39.03 171.1 34.56 171.5 30.98 171.8 28.31 172.2 26.58 172.6 25.78 172.9 25.94 173.2 27.04 173.6 29.08 173.9 32.05 174.3 35.92 174.6 40.67 175.0 46.25 175.3 52.63 175.7 59.76 176.1 67.58 176.4 76.05 176.8 85.08 177.1 94.63 177.4 104.61 177.8 114.95 178.2 125.57 178.5 136.40 178.8 147.35 179.2 158.35 179.5 169.30 179.9 180.14 180.2 190.77 180.6 201.12 180.9 211.11 181.3 220.67 181.7 229.72 182.0 238.20 182.3 246.04 182.7 253.19 183.0 259.59 183.4 265.19 183.8 269.96 184.1 273.86 184.4 276.85 184.8 278.92 185.1 280.05 185.5 280.23 185.8 279.46 186.2 277.75 186.5 275.10 186.9 271.55 187.2 267.11 187.6 261.81 187.9 255.71 188.3 248.84 188.6 241.25 189.0 233.01 189.3 224.17 189.7 214.80 190.0 204.96 190.4 194.74 190.8 184.21 191.1 173.44 191.4 162.52 191.8 151.53 192.1 140.55 192.5 129.67 192.8 118.95 193.2 108.50 193.5 98.37 193.9 88.65 194.2 79.42 194.6 70.73 194.9 62.65 195.3 55.25 195.6 48.58 196.0 42.69 196.3 37.62 196.7 33.42 197.0 30.10 197.4 27.71 197.8 26.24 198.1 25.73 198.4 26.16 198.8 27.54 199.1 29.86 199.5 33.10 199.8 37.23 200.2 42.22 200.5 48.05 200.9 54.65 201.2 61.99 201.6 70.01 201.9 78.65 202.3 87.84 202.6 97.52 203.0 107.61 203.3 118.05 203.7 128.74 204.0 139.61 204.4 150.59 204.8 161.58 205.1 172.51 205.4 183.29 205.8 193.85 206.1 204.10 206.5 213.97 206.8 223.38 207.2 232.27 207.5 240.57 207.9 248.22 208.2 255.15 208.6 261.32 208.9 266.69 209.3 271.20 209.6 274.83 210.0 277.55 210.3 279.35 210.7 280.20 211.0 280.10 211.4 279.05 211.8 277.06 212.1 274.15 212.4 270.33 212.8 265.64 213.1 260.10 213.5 253.77 213.8 246.68 214.2 238.89 214.5 230.47 214.9 221.46 215.2 211.95 215.6 201.99 215.9 191.67 216.3 181.06 216.6 170.24 217.0 159.29 217.3 148.30 217.7 137.34 218.0 126.49 218.4 115.85 218.8 105.48 219.1 95.47 219.4 85.88 219.8 76.80 220.1 68.28 220.5 60.40 220.8 53.21 221.2 46.77 221.5 41.11 221.9 36.29 222.2 32.35 222.6 29.30 222.9 27.18 223.3 25.99 223.6 25.76 224.0 26.47 224.3 28.13 224.7 30.72 225.0 34.22 225.4 38.61 225.8 43.85 226.1 49.91 226.4 56.74 226.8 64.28 227.1 72.49 227.5 81.30 227.8 90.64 228.2 100.45 228.5 110.65 228.9 121.17 229.2 131.92 229.6 142.84 229.9 153.82 230.3 164.81 230.6 175.70 231.0 186.42 231.3 196.90 231.7 207.05 232.0 216.79 232.4 226.06 232.8 234.78 233.1 242.89 233.4 250.33 233.8 257.05 234.1 262.99 234.5 268.10 234.8 272.36 235.2 275.73 235.5 278.18 235.9 279.70 236.2 280.27 236.6 279.89 236.9 278.56 237.3 276.30 237.6 273.12 238.0 269.04 238.3 264.09 238.7 258.32 239.0 251.76 239.4 244.46 239.8 236.48 240.1 227.87 240.4 218.71 240.8 209.06 241.1 198.99 241.5 188.57 241.8 177.89 242.2 167.03 242.5 156.06 242.9 145.06 243.2 134.13 243.6 123.33 243.9 112.76 244.3 102.49 244.6 92.60 245.0 83.15 245.3 74.23 245.7 65.90 246.0 58.21 246.4 51.23 246.8 45.02 247.1 39.61 247.4 35.04 247.8 31.36 248.1 28.58 248.5 26.73 248.8 25.83 249.2 25.87 249.5 26.86 249.9 28.79 250.2 31.66 250.6 35.42 250.9 40.07 251.3 45.55 251.6 51.84 252.0 58.89 252.3 66.63 252.7 75.02 253.0 84.00 253.4 93.48 253.8 103.42 254.1 113.72 254.4 124.31 254.8 135.12 255.1 146.07 255.5 157.06 255.8 168.03 256.2 178.88 256.5 189.54 256.9 199.92 257.2 209.96 257.6 219.57 257.9 228.68 258.3 237.23 258.6 245.15 259.0 252.39 259.4 258.88 259.7 264.58 260.0 269.45 260.4 273.45 260.8 276.55 261.1 278.72 261.4 279.96 261.8 280.26 262.1 279.60 262.5 277.99 262.9 275.46 263.2 272.01 263.5 267.67 263.9 262.48 264.2 256.47 264.6 249.68 264.9 242.18 265.3 234.01 265.6 225.23 266.0 215.92 266.4 206.13 266.7 195.95 267.0 185.45 267.4 174.71 267.8 163.81 268.1 152.82 268.4 141.83 268.8 130.93 269.1 120.20 269.5 109.71 269.9 99.54 270.2 89.77 270.5 80.47 270.9 71.71 271.2 63.56 271.6 56.08 271.9 49.32 272.3 43.34 272.6 38.17 273.0 33.86 273.4 30.44 273.7 27.94 274.0 26.37 274.4 25.74 274.8 26.06 275.1 27.33 275.4 29.54 275.8 32.67 276.1 36.70 276.5 41.60 276.9 47.32 277.2 53.84 277.5 61.09 277.9 69.04 278.2 77.61 278.6 86.74 278.9 96.36 279.3 106.41 279.6 116.81 280.0 127.48 280.4 138.33 280.7 149.30 281.0 160.29 281.4 171.23 281.8 182.04 282.1 192.63 282.4 202.92 282.8 212.84 283.1 222.31 283.5 231.26 283.9 239.63 284.2 247.36 284.5 254.38 284.9 260.64 285.2 266.10 285.6 270.72 285.9 274.45 286.3 277.28 286.6 279.19 287.0 280.15 287.4 280.16 287.7 279.22 288.0 277.34 288.4 274.54 288.8 270.82 289.1 266.23 289.4 260.79 289.8 254.55 290.1 247.55 290.5 239.84 290.9 231.49 291.2 222.54 291.5 213.08 291.9 203.18 292.2 192.89 292.6 182.31 292.9 171.51 293.3 160.58 293.6 149.58 294.0 138.61 294.4 127.75 294.7 117.08 295.0 106.68 295.4 96.62 295.8 86.98 296.1 77.83 296.4 69.25 296.8 61.29 297.1 54.02 297.5 47.48 297.9 41.73 298.2 36.81 298.5 32.76 298.9 29.61 299.2 27.38 299.6 26.08 299.9 25.74 300.3 26.34 300.6 27.89 301.0 30.37 301.4 33.76 301.7 38.05 302.0 43.20 302.4 49.16 302.8 55.90 303.1 63.36 303.4 71.50 303.8 80.24 304.1 89.52 304.5 99.28 304.9 109.44 305.2 119.92 305.6 130.66 305.9 141.55 306.2 152.54 306.6 163.52 306.9 174.43 307.3 185.18 307.6 195.69 308.0 205.88 308.3 215.67 308.7 225.00 309.1 233.79 309.4 241.98 309.8 249.50 310.1 256.30 310.4 262.33 310.8 267.55 311.1 271.91 311.5 275.38 311.8 277.94 312.2 279.57 312.6 280.25 312.9 279.98 313.2 278.77 313.6 276.61 313.9 273.54 314.3 269.56 314.6 264.72 315.0 259.04 315.3 252.56 315.7 245.35 316.1 237.45 316.4 228.91 316.8 219.81 317.1 210.21 317.4 200.19 317.8 189.81 318.1 179.15 318.5 168.31 318.8 157.34 319.2 146.35 319.5 135.40 319.9 124.59 320.2 113.99 320.6 103.68 320.9 93.73 321.3 84.23 321.6 75.25 322.0 66.84 322.3 59.08 322.7 52.01 323.0 45.70 323.4 40.20 323.8 35.53 324.1 31.74 324.4 28.86 324.8 26.90 325.1 25.88 325.5 25.81 325.8 26.70 326.2 28.52 326.5 31.27 326.9 34.93 327.2 39.48 327.6 44.87 327.9 51.07 328.3 58.02 328.6 65.69 329.0 74.01 329.3 82.92 329.7 92.35 330.0 102.23 330.4 112.49 330.8 123.06 331.1 133.85 331.4 144.78 331.8 155.77 332.1 166.75 332.5 177.61 332.8 188.30 333.2 198.72 333.5 208.80 333.9 218.47 334.2 227.64 334.6 236.26 334.9 244.26 335.3 251.58 335.6 258.16 336.0 263.95 336.3 268.92 336.7 273.02 337.0 276.23 337.4 278.52 337.8 279.87 338.1 280.27 338.4 279.72 338.8 278.23 339.1 275.80 339.5 272.46 339.8 268.22 340.2 263.13 340.5 257.21 340.9 250.52 341.2 243.09 341.6 235.00 341.9 226.29 342.3 217.04 342.6 207.30 343.0 197.16 343.3 186.70 343.7 175.98 344.0 165.09 344.4 154.11 344.8 143.12 345.1 132.20 345.4 121.44 345.8 110.92 346.1 100.71 346.5 90.89 346.8 81.53 347.2 72.71 347.5 64.49 347.9 56.92 348.2 50.08 348.6 44.00 348.9 38.73 349.3 34.32 349.6 30.80 350.0 28.18 350.3 26.50 350.7 25.76 351.0 25.98 351.4 27.14 351.8 29.23 352.1 32.26 352.4 36.18 352.8 40.98 353.1 46.61 353.5 53.04 353.8 60.21 354.2 68.07 354.5 76.57 354.9 85.64 355.2 95.21 355.6 105.22 355.9 115.58 356.3 126.22 356.6 137.05 357.0 148.01 357.3 159.01 357.7 169.96 358.0 180.78 358.4 191.40 358.8 201.73 359.1 211.70 359.4 221.22 359.8 230.24 360.1 238.68 360.5 246.49 360.8 253.59 361.2 259.95 361.5 265.50 361.9 270.22 362.2 274.06 362.6 277.00 362.9 279.01 363.3 280.08 363.6 280.21 364.0 279.38 364.3 277.61 364.7 274.91 365.0 271.30 365.4 266.81 365.8 261.47 366.1 255.32 366.4 248.40 366.8 240.78 367.1 232.50 367.5 223.62 367.8 214.22 368.2 204.36 368.5 194.12 368.9 183.57 369.2 172.79 369.6 161.86 369.9 150.87 370.3 139.90 370.6 129.02 371.0 118.32 371.3 107.88 371.7 97.78 372.0 88.08 372.4 78.88 372.8 70.22 373.1 62.19 373.4 54.83 373.8 48.21 374.1 42.36 374.5 37.35 374.8 33.19 375.2 29.93 375.5 27.59 375.9 26.19 376.2 25.73 376.6 26.22 376.9 27.66 377.3 30.03 377.6 33.32 378.0 37.50 378.3 42.55 378.7 48.42 379.0 55.07 379.4 62.45 379.8 70.51 380.1 79.18 380.4 88.41 380.8 98.12 381.1 108.23 381.5 118.68 381.8 129.39 382.2 140.27 382.5 151.25 382.9 162.24 383.2 173.16 383.6 183.93 383.9 194.47 384.3 204.70 384.6 214.55 385.0 223.93 385.3 232.79 385.7 241.05 386.0 248.65 386.4 255.54 386.8 261.67 387.1 266.98 387.4 271.44 387.8 275.02 388.1 277.69 388.5 279.43 388.8 280.22 389.2 280.06 389.5 278.96 389.9 276.91 390.2 273.94 390.6 270.07 390.9 265.33 391.3 259.74 391.6 253.36 392.0 246.23 392.3 238.41 392.7 229.94 393.0 220.90 393.4 211.36 393.8 201.38 394.1 191.04 394.4 180.41 394.8 169.58 395.1 158.63 395.5 147.64 395.8 136.68 396.2 125.85 396.5 115.22 396.9 104.87 397.2 94.88 397.6 85.32 397.9 76.27 398.3 67.79 398.6 59.95 399.0 52.80 399.3 46.40 399.7 40.80 400.0 36.03 400.4 32.14 400.8 29.15 401.1 27.08 401.4 25.95 401.8 25.77 402.1 26.54 402.5 28.26 402.8 30.90 403.2 34.46 403.5 38.90 403.9 44.19 404.2 50.30 404.6 57.17 404.9 64.76 405.3 73.00 405.6 81.85 406.0 91.22 406.3 101.05 406.7 111.28 407.0 121.81 407.4 132.58 407.8 143.49 408.1 154.48 408.4 165.46 408.8 176.35 409.1 187.06 409.5 197.52 409.8 207.64 410.2 217.36 410.5 226.60 410.9 235.29 411.2 243.36 411.6 250.76 411.9 257.43 412.3 263.32 412.6 268.38 413.0 272.59 413.3 275.90 413.7 278.30 414.0 279.76 414.4 280.27 414.8 279.84 415.1 278.45 415.4 276.14 415.8 272.90 416.1 268.77 416.5 263.77 416.8 257.95 417.2 251.34 417.5 244.00 417.9 235.98 418.2 227.34 418.6 218.15 418.9 208.47 419.3 198.37 419.6 187.94 420.0 177.24 420.3 166.37 420.7 155.40 421.0 144.40 421.4 133.48 421.8 122.69 422.1 112.14 422.4 101.89 422.8 92.02 423.1 82.60 423.5 73.71 423.8 65.42 424.2 57.77 424.5 50.84 424.9 44.67 425.2 39.31 425.6 34.79 425.9 31.16 426.3 28.44 426.6 26.65 427.0 25.80 427.3 25.90 427.7 26.95 428.0 28.94 428.4 31.86 428.8 35.68 429.1 40.37 429.4 45.91 429.8 52.24 430.1 59.33 430.5 67.12 430.8 75.55 431.2 84.55 431.5 94.07 431.9 104.02 432.2 114.35 432.6 124.96 432.9 135.78 433.3 146.73 433.6 157.72 434.0 168.68 434.3 179.52 434.7 190.17 435.0 200.54 435.4 210.55 435.8 220.13 436.1 229.21 436.4 237.73 436.8 245.61 437.1 252.80 437.5 259.24 437.8 264.90 438.2 269.71 438.5 273.66 438.9 276.70 439.2 278.82 439.6 280.01 439.9 280.24 440.3 279.53 440.6 277.87 441.0 275.28 441.3 271.77 441.7 267.38 442.0 262.14 442.4 256.08 442.8 249.25 443.1 241.71 443.4 233.50 443.8 224.69 444.1 215.34 444.5 205.53 444.8 195.33 445.2 184.81 445.5 174.06 445.9 163.15 446.2 152.16 446.6 141.18 446.9 130.28 447.3 119.56 447.6 109.09 448.0 98.94 448.3 89.20 448.7 79.93 449.0 71.21 449.4 63.10 449.8 55.66 450.1 48.94 450.4 43.01 450.8 37.89 451.1 33.63 451.5 30.27 451.8 27.82 452.2 26.30 452.5 25.73 452.9 26.11 453.2 27.44 453.6 29.70 453.9 32.89 454.3 36.97 454.6 41.92 455.0 47.69 455.3 54.25 455.7 61.55 456.0 69.53 456.4 78.14 456.8 87.30 457.1 96.96 457.4 107.03 457.8 117.44 458.1 128.12 458.5 138.99 458.8 149.96 459.2 160.95 459.5 171.89 459.9 182.68 460.2 193.25 460.6 203.52 460.9 213.42 461.3 222.86 461.6 231.78 462.0 240.12 462.3 247.80 462.7 254.77 463.0 260.99 463.4 266.40 463.8 270.97 464.1 274.65 464.4 277.42 464.8 279.27 465.1 280.18 465.5 280.13 465.8 279.14 466.2 277.20 466.5 274.34 466.9 270.57 467.2 265.93 467.6 260.44 467.9 254.15 468.3 247.10 468.6 239.36 469.0 230.96 469.3 221.99 469.7 212.50 470.0 202.57 470.4 192.27 470.8 181.67 471.1 170.86 471.4 159.92 471.8 148.92 472.1 137.96 472.5 127.11 472.8 116.45 473.2 106.06 473.5 96.03 473.9 86.42 474.2 77.30 474.6 68.75 474.9 60.83 475.3 53.60 475.6 47.11 476.0 41.41 476.3 36.55 476.7 32.55 477.0 29.45 477.4 27.27 477.8 26.04 478.1 25.75 478.4 26.40 478.8 28.01 479.1 30.55 479.5 34.00 479.8 38.34 480.2 43.53 480.5 49.54 480.9 56.33 481.2 63.83 481.6 72.00 481.9 80.78 482.3 90.10 482.6 99.88 483.0 110.06 483.3 120.56 483.7 131.31 484.0 142.21 484.4 153.20 484.8 164.18 485.1 175.08 485.4 185.82 485.8 196.31 486.1 206.48 486.5 216.25 486.8 225.54 487.2 234.30 487.5 242.45 487.9 249.93 488.2 256.69 488.6 262.67 488.9 267.83 489.3 272.14 489.6 275.56 490.0 278.06 490.3 279.64 490.7 280.26 491.0 279.94 491.4 278.66 491.8 276.45 492.1 273.32 492.4 269.29 492.8 264.40 493.1 258.67 493.5 252.15 493.8 244.89 494.2 236.95 494.5 228.38 494.9 219.25 495.2 209.62 495.6 199.57 495.9 189.18 496.3 178.51 496.6 167.65 497.0 156.68 497.3 145.69 497.7 134.75 498.0 123.95 498.4 113.36 498.7 103.07 499.1 93.15 499.4 83.68 499.8 74.73 500.1 66.36 500.5 58.63 500.8 51.61 501.2 45.35 501.5 39.89 501.9 35.28 502.2 31.54 502.6 28.71 502.9 26.81 503.3 25.85 503.6 25.84 504.0 26.78 504.3 28.66 504.7 31.47 505.0 35.18 505.4 39.78 505.7 45.22 506.1 51.46 506.4 58.46 506.8 66.17 507.1 74.53 507.5 83.47 507.8 92.93 508.2 102.84 508.5 113.12 508.9 123.70 509.2 134.50 509.6 145.44 509.9 156.43 510.3 167.40 510.6 178.26 511.0 188.93 511.3 199.34 511.7 209.40 512.0 219.03 512.4 228.18 512.8 236.76 513.1 244.72 513.5 251.99 513.8 258.53 514.1 264.28 514.5 269.19 514.8 273.24 515.2 276.39 515.5 278.62 515.9 279.92 516.2 280.26 516.6 279.66 517.0 278.11 517.3 275.63 517.6 272.23 518.0 267.94 518.3 262.80 518.7 256.83 519.0 250.09 519.4 242.63 519.8 234.49 520.1 225.75 520.5 216.46 520.8 206.71 521.1 196.55 521.5 186.06 521.8 175.33 522.2 164.43 522.5 153.45 522.9 142.46 523.2 131.55 523.6 120.80 524.0 110.30 524.3 100.11 524.6 90.31 525.0 80.99 525.3 72.20 525.7 64.01 526.0 56.49 526.4 49.69 526.8 43.66 527.1 38.45 527.5 34.09 527.8 30.61 528.1 28.06 528.5 26.43 528.8 25.75 529.2 26.02 529.5 27.23 529.9 29.39 530.2 32.47 530.6 36.45 531.0 41.29 531.3 46.97 531.6 53.45 532.0 60.66 532.3 68.57 532.7 77.10 533.0 86.20 533.4 95.80 533.8 105.83 534.1 116.21 534.5 126.86 534.8 137.71 535.1 148.67 535.5 159.67 535.8 170.61 536.2 181.43 536.5 192.03 536.9 202.34 537.2 212.28 537.6 221.78 538.0 230.77 538.3 239.17 538.6 246.93 539.0 254.00 539.3 260.30 539.7 265.81 540.0 270.48 540.4 274.26 540.8 277.15 541.1 279.10 541.5 280.12 541.8 280.18 542.1 279.30 542.5 277.48 542.8 274.72 543.2 271.06 543.5 266.52 543.9 261.12 544.2 254.93 544.6 247.97 545.0 240.30 545.3 231.98 545.6 223.07 546.0 213.64 546.3 203.75 546.7 193.49 547.0 182.92 547.4 172.14 547.8 161.20 548.1 150.21 548.5 139.24 548.8 128.37 549.1 117.68 549.5 107.26 549.8 97.18 550.2 87.52 550.5 78.34 550.9 69.72 551.2 61.73 551.6 54.41 552.0 47.83 552.3 42.04 552.6 37.07 553.0 32.97 553.3 29.77 553.7 27.48 554.0 26.13 554.4 25.73 554.8 26.28 555.1 27.77 555.5 30.20 555.8 33.55 556.1 37.78 556.5 42.88 556.8 48.80 557.2 55.49 557.5 62.92 557.9 71.01 558.2 79.72 558.6 88.98 559.0 98.71 559.3 108.85 559.6 119.32 560.0 130.04 560.3 140.93 560.7 151.91 561.0 162.90 561.4 173.81 561.8 184.57 562.1 195.10 562.4 205.31 562.8 215.12 563.1 224.48 563.5 233.30 563.9 241.53 564.2 249.09 564.5 255.93 564.9 262.01 565.2 267.27 565.6 271.68 565.9 275.21 566.3 277.82 566.6 279.50 567.0 280.24 567.4 280.02 567.7 278.86 568.0 276.76 568.4 273.74 568.8 269.81 569.1 265.01 569.4 259.38 569.8 252.95 570.1 245.78 570.5 237.92 570.9 229.42 571.2 220.35 571.5 210.77 571.9 200.77 572.2 190.41 572.6 179.77 572.9 168.93 573.3 157.97 573.6 146.98 574.0 136.03 574.4 125.20 574.7 114.59 575.0 104.26 575.4 94.29 575.8 84.76 576.1 75.75 576.4 67.30 576.8 59.50 577.1 52.40 577.5 46.04 577.9 40.49 578.2 35.77 578.5 31.93 578.9 29.00 579.2 26.99 579.6 25.92 579.9 25.79 580.3 26.62 580.6 28.39 581.0 31.09 581.4 34.70 581.7 39.20 582.0 44.54 582.4 50.69 582.8 57.61 583.1 65.23 583.4 73.52 583.8 82.39 584.1 91.80 584.5 101.66 584.9 111.90 585.2 122.45 585.5 133.23 585.9 144.15 586.2 155.14 586.6 166.12 586.9 177.00 587.3 187.70 587.6 198.14 588.0 208.24 588.3 217.93 588.7 227.13 589.0 235.79 589.4 243.82 589.8 251.18 590.1 257.80 590.4 263.64 590.8 268.66 591.1 272.81 591.5 276.07 591.8 278.41 592.2 279.82 592.5 280.27 592.9 279.78 593.2 278.34 593.6 275.97 593.9 272.67 594.3 268.49 594.6 263.44 595.0 257.57 595.3 250.92 595.7 243.54 596.0 235.48 596.4 226.80 596.8 217.58 597.1 207.87 597.4 197.75 597.8 187.30 598.1 176.60 598.5 165.71 598.8 154.74 599.2 143.75 599.5 132.82 599.9 122.05 600.2 111.51 600.6 101.28 600.9 91.44 601.3 82.05 601.6 73.20 602.0 64.94 602.3 57.34 602.7 50.45 603.0 44.32 603.4 39.01 603.8 34.55 604.1 30.97 604.4 28.31 604.8 26.57 605.1 25.78 605.5 25.94 605.8 27.04 606.2 29.09 606.5 32.06 606.9 35.93 607.2 40.68 607.6 46.27 607.9 52.65 608.3 59.78 608.6 67.61 609.0 76.07 609.3 85.11 609.7 94.65 610.0 104.63 610.4 114.98 610.8 125.60 611.1 136.43 611.4 147.38 611.8 158.38 612.1 169.34 612.5 180.17 612.8 190.80 613.2 201.15 613.5 211.14 613.9 220.69 614.2 229.74 614.6 238.22 614.9 246.06 615.3 253.21 615.6 259.61 616.0 265.21 616.3 269.97 616.7 273.87 617.0 276.86 617.4 278.92 617.8 280.05 618.1 280.23 618.4 279.45 618.8 277.74 619.1 275.09 619.5 271.53 619.8 267.09 620.2 261.80 620.5 255.69 620.9 248.82 621.2 241.23 621.6 232.99 621.9 224.14 622.3 214.77 622.6 204.93 623.0 194.71 623.3 184.18 623.7 173.41 624.0 162.49 624.4 151.50 624.8 140.52 625.1 129.64 625.4 118.92 625.8 108.47 626.1 98.34 626.5 88.63 626.8 79.39 627.2 70.70 627.5 62.63 627.9 55.23 628.2 48.56 628.6 42.68 628.9 37.61 629.3 33.41 629.6 30.09 630.0 27.70 630.3 26.24 630.7 25.73 631.0 26.17 631.4 27.55 631.8 29.87 632.1 33.11 632.4 37.24 632.8 42.24 633.1 48.06 633.5 54.67 633.8 62.01 634.2 70.03 634.5 78.67 634.9 87.87 635.2 97.55 635.6 107.64 635.9 118.08 636.3 128.77 636.6 139.65 637.0 150.62 637.3 161.61 637.7 172.54 638.0 183.32 638.4 193.88 638.8 204.13 639.1 214.00 639.4 223.41 639.8 232.30 640.1 240.60 640.5 248.24 640.8 255.17 641.2 261.34 641.5 266.70 641.9 271.21 642.2 274.84 642.6 277.56 642.9 279.35 643.3 280.20 643.6 280.10 644.0 279.05 644.3 277.06 644.7 274.14 645.0 270.32 645.4 265.62 645.8 260.08 646.1 253.75 646.4 246.66 646.8 238.87 647.1 230.44 647.5 221.44 647.8 211.92 648.2 201.96 648.5 191.64 648.9 181.03 649.2 170.21 649.6 159.26 649.9 148.26 650.3 137.30 650.6 126.46 651.0 115.82 651.3 105.45 651.7 95.44 652.0 85.85 652.4 76.77 652.8 68.26 653.1 60.38 653.4 53.19 653.8 46.75 654.1 41.10 654.5 36.28 654.8 32.34 655.2 29.29 655.5 27.17 655.9 25.99 656.2 25.76 656.6 26.47 656.9 28.13 657.3 30.73 657.6 34.23 658.0 38.62 658.3 43.87 658.7 49.93 659.0 56.76 659.4 64.31 659.8 72.51 660.1 81.32 660.4 90.67 660.8 100.48 661.1 110.68 661.5 121.20 661.8 131.96 662.2 142.87 662.5 153.86 662.9 164.84 663.2 175.73 663.6 186.46 663.9 196.93 664.3 207.08 664.6 216.82 665.0 226.08 665.3 234.80 665.7 242.91 666.0 250.35 666.4 257.07 666.8 263.00 667.1 268.12 667.4 272.37 667.8 275.74 668.1 278.19 668.5 279.70 668.8 280.27 669.2 279.89 669.5 278.56 669.9 276.29 670.2 273.11 670.6 269.02 670.9 264.08 671.3 258.30 671.6 251.74 672.0 244.44 672.3 236.45 672.7 227.85 673.0 218.68 673.4 209.03 673.8 198.96 674.1 188.54 674.4 177.86 674.8 167.00 675.1 156.02 675.5 145.03 675.8 134.10 676.2 123.30 676.5 112.73 676.9 102.46 677.2 92.57 677.6 83.13 677.9 74.21 678.3 65.87 678.6 58.19 679.0 51.22 679.3 45.00 679.7 39.59 680.0 35.03 680.4 31.35 680.8 28.57 681.1 26.73 681.4 25.82 681.8 25.87 682.1 26.87 682.5 28.80 682.8 31.67 683.2 35.43 683.5 40.08 683.9 45.57 684.2 51.86 684.6 58.91 684.9 66.66 685.3 75.05 685.6 84.02 686.0 93.51 686.3 103.45 686.7 113.75 687.0 124.34 687.4 135.15 687.8 146.10 688.1 157.09 688.4 168.06 688.8 178.91 689.1 189.57 689.5 199.95 689.8 209.99 690.2 219.60 690.5 228.71 690.9 237.26 691.2 245.18 691.6 252.41 691.9 258.90 692.3 264.59 692.6 269.46 693.0 273.46 693.3 276.55 693.7 278.73 694.0 279.97 694.4 280.25 694.8 279.59 695.1 277.99 695.4 275.45 695.8 272.00 696.1 267.66 696.5 262.46 696.8 256.45 697.2 249.66 697.5 242.16 697.9 233.98 698.2 225.21 698.6 215.89 698.9 206.11 699.3 195.92 699.6 185.42 700.0 174.68 700.3 163.77 700.7 152.79 701.0 141.80 701.4 130.90 701.8 120.17 702.1 109.68 702.4 99.51 702.8 89.74 703.1 80.44 703.5 71.69 703.8 63.54 704.2 56.06 704.5 49.31 704.9 43.32 705.2 38.16 705.6 33.85 705.9 30.44 706.3 27.93 706.6 26.36 707.0 25.74 707.3 26.06 707.7 27.34 708.0 29.55 708.4 32.68 708.8 36.71 709.1 41.61 709.4 47.34 709.8 53.86 710.1 61.12 710.5 69.06 710.8 77.63 711.2 86.76 711.5 96.39 711.9 106.44 712.2 116.84 712.6 127.51 712.9 138.36 713.3 149.33 713.6 160.33 714.0 171.27 714.3 182.07 714.7 192.66 715.0 202.95 715.4 212.86 715.8 222.33 716.1 231.29 716.4 239.66 716.8 247.38 717.1 254.40 717.5 260.66 717.8 266.11 718.2 270.73 718.5 274.46 718.9 277.29 719.2 279.19 719.6 280.15 719.9 280.16 720.3 279.22 720.6 277.34 721.0 274.53 721.3 270.81 721.7 266.22 722.0 260.77 722.4 254.53 722.8 247.53 723.1 239.82 723.4 231.46 723.8 222.52 724.1 213.06 724.5 203.15 724.8 192.86 725.2 182.28 725.5 171.48 725.9 160.55 726.2 149.55 726.6 138.58 726.9 127.72 727.3 117.05 727.6 106.65 728.0 96.59 728.3 86.95 728.7 77.81 729.0 69.23 729.4 61.27 729.8 54.00 730.1 47.46 730.4 41.72 730.8 36.80 731.1 32.75 731.5 29.60 731.8 27.37 732.2 26.08 732.5 25.74 732.9 26.34 733.2 27.89 733.6 30.38 733.9 33.78 734.3 38.06 734.6 43.21 735.0 49.18 735.3 55.92 735.7 63.39 736.0 71.52 736.4 80.26 736.8 89.55 737.1 99.31 737.4 109.47 737.8 119.95 738.1 130.69 738.5 141.58 738.8 152.57 739.2 163.55 739.5 174.46 739.9 185.21 740.2 195.72 740.6 205.91 740.9 215.70 741.3 225.03 741.6 233.81 742.0 242.00 742.3 249.52 742.7 256.32 743.0 262.35 743.4 267.56 743.8 271.92 744.1 275.39 744.4 277.95 744.8 279.57 745.1 280.25 745.5 279.98 745.8 278.76 746.2 276.61 746.5 273.53 746.9 269.55 747.2 264.70 747.6 259.02 747.9 252.54 748.3 245.33 748.6 237.42 749.0 228.89 749.3 219.78 749.7 210.18 750.0 200.16 750.4 189.78 750.8 179.12 751.1 168.28 751.4 157.31 751.8 146.32 752.1 135.37 752.5 124.56 752.8 113.96 753.2 103.65 753.5 93.71 753.9 84.21 754.2 75.22 754.6 66.82 754.9 59.06 755.3 51.99 755.6 45.69 756.0 40.18 756.3 35.52 756.7 31.73 757.0 28.85 757.4 26.89 757.8 25.88 758.1 25.82 758.4 26.70 758.8 28.53 759.1 31.28 759.5 34.95 759.8 39.49 760.2 44.88 760.5 51.08 760.9 58.04 761.2 65.71 761.6 74.03 761.9 82.94 762.3 92.38 762.6 102.26 763.0 112.52 763.3 123.09 763.7 133.88 764.0 144.81 764.4 155.80 764.8 166.78 765.1 177.65 765.4 188.33 765.8 198.75 766.1 208.83 766.5 218.50 766.8 227.67 767.2 236.29 767.5 244.28 767.9 251.60 768.2 258.18 768.6 263.97 768.9 268.93 769.3 273.03 769.6 276.24 770.0 278.52 770.3 279.87 770.7 280.27 771.0 279.72 771.4 278.22 771.8 275.79 772.1 272.45 772.4 268.21 772.8 263.11 773.1 257.19 773.5 250.50 773.8 243.07 774.2 234.97 774.5 226.26 774.9 217.01 775.2 207.27 775.6 197.14 775.9 186.67 776.3 175.95 776.6 165.06 777.0 154.08 777.3 143.09 777.7 132.17 778.0 121.41 778.4 110.89 778.8 100.68 779.1 90.86 779.4 81.51 779.8 72.69 780.1 64.46 780.5 56.90 780.8 50.06 781.2 43.98 781.5 38.72 781.9 34.31 782.2 30.79 782.6 28.18 782.9 26.50 783.3 25.76 783.6 25.98 784.0 27.14 784.3 29.24 784.7 32.27 785.0 36.19 785.4 40.99 785.8 46.63 786.1 53.06 786.4 60.23 786.8 68.10 787.1 76.60 787.5 85.67 787.8 95.24 788.2 105.25 788.5 115.61 788.9 126.25 789.2 137.09 789.6 148.04 789.9 159.04 790.3 169.99 790.6 180.81 791.0 191.43 791.3 201.76 791.7 211.72 792.0 221.25 792.4 230.27 792.8 238.71 793.1 246.51 793.4 253.61 793.8 259.96 794.1 265.52 794.5 270.23 794.8 274.07 795.2 277.01 795.5 279.02 795.9 280.09 796.2 280.21 796.6 279.38 796.9 277.61 797.3 274.90 797.6 271.29 798.0 266.80 798.3 261.45 798.7 255.30 799.0 248.38 799.4 240.75 799.8 232.47 800.1 223.59 800.4 214.19 800.8 204.33 801.1 194.09 801.5 183.54 801.8 172.76 802.2 161.83 802.5 150.84 802.9 139.86 803.2 128.99 803.6 118.29 803.9 107.85 804.3 97.75 804.6 88.06 805.0 78.85 805.3 70.20 805.7 62.17 806.0 54.81 806.4 48.19 806.8 42.35 807.1 37.33 807.4 33.18 807.8 29.92 808.1 27.59 808.5 26.18 808.8 25.73 809.2 26.22 809.5 27.66 809.9 30.04 810.2 33.33 810.6 37.52 810.9 42.57 811.3 48.44 811.6 55.09 812.0 62.48 812.3 70.54 812.7 79.21 813.0 88.44 813.4 98.14 813.8 108.26 814.1 118.71 814.4 129.42 814.8 140.30 815.1 151.28 815.5 162.27 815.8 173.19 816.2 183.96 816.5 194.50 816.9 204.73 817.2 214.58 817.6 223.96 817.9 232.81 818.3 241.07 818.6 248.67 819.0 255.56 819.3 261.68 819.7 266.99 820.0 271.45 820.4 275.03 820.8 277.70 821.1 279.43 821.4 280.22 821.8 280.06 822.1 278.95 822.5 276.91 822.8 273.93 823.2 270.06 823.4 268.13"/>
</g>
<rect x="49.5" y="13.5" width="775" height="280" fill="none" stroke="#000" stroke-width="1.11" stroke-linejoin="miter"/>
<path d="M49.5 293.5 v4.86 M204.5 293.5 v4.86 M359.5 293.5 v4.86 M514.5 293.5 v4.86 M669.5 293.5 v4.86 M824.5 293.5 v4.86 M49.5 289.5 h-4.86 M49.5 244.5 h-4.86 M49.5 198.5 h-4.86 M49.5 153.5 h-4.86 M49.5 107.5 h-4.86 M49.5 62.5 h-4.86 M49.5 16.5 h-4.86" stroke="#000" stroke-width="1.11" fill="none"/>
<g class="t">
<text transform="translate(43.83 317.00) scale(1.0092 1)" font-size="21.50">0</text>
<text transform="translate(185.13 317.00) scale(1.1117 1)" font-size="21.50">100</text>
<text transform="translate(340.10 317.00) scale(1.1118 1)" font-size="21.50">200</text>
<text transform="translate(495.24 317.00) scale(1.1096 1)" font-size="21.50">300</text>
<text transform="translate(651.12 317.00) scale(1.1162 1)" font-size="21.50">400</text>
<text transform="translate(806.13 317.00) scale(1.1120 1)" font-size="21.50">500</text>
<text transform="translate(25.51 297.00) scale(1.1085 1)" font-size="21.50">3</text>
<text transform="translate(10.68 301.00) scale(1.2344 1.3868)" font-size="21.50">−</text>
<text transform="translate(25.49 251.00) scale(1.1302 1)" font-size="21.50">2</text>
<text transform="translate(10.68 255.00) scale(1.2344 1.3868)" font-size="21.50">−</text>
<text transform="translate(25.61 206.00) scale(1.0084 1)" font-size="21.50">1</text>
<text transform="translate(10.68 210.00) scale(1.2344 1.3868)" font-size="21.50">−</text>
<text transform="translate(27.08 160.00) scale(1.1299 1)" font-size="21.50">0</text>
<text transform="translate(26.76 115.00) scale(1.1141 1)" font-size="21.50">1</text>
<text transform="translate(26.83 69.00) scale(1.1998 1)" font-size="21.50">2</text>
<text transform="translate(26.99 24.00) scale(1.1310 1)" font-size="21.50">3</text>
</g>
<rect x="58.60" y="22.60" width="103.90" height="62.00" rx="3.9" fill="rgba(255,255,255,0.8)" stroke="rgba(204,204,204,0.8)" stroke-width="1.39"/>
<path d="M66.14 37.20 h38.9" stroke="#1f77b4" stroke-width="2.08" stroke-linecap="square"/>
<path d="M66.14 65.00 h38.9" stroke="#ff7f0e" stroke-width="2.08" stroke-linecap="square"/>
<g class="t">
<text transform="translate(121.20 45.00) scale(1.1142 1)" font-size="20.00">x(t)</text>
<text transform="translate(120.82 73.00) scale(1.1278 1)" font-size="20.00">y(t)</text>
</g>
<clipPath id="c349"><rect x="49" y="349" width="776" height="280"/></clipPath>
<g clip-path="url(#c349)" fill="none" stroke-width="2.08" stroke-linecap="square" stroke-linejoin="round">
<path stroke="#1f77b4" d="M49.00 540.62 L49.4 534.21 49.7 527.46 50.0 520.43 50.4 513.15 50.8 505.69 51.1 498.10 51.5 490.44 51.8 482.76 52.1 475.13 52.5 467.59 52.9 460.22 53.2 453.05 53.5 446.15 53.9 439.56 54.2 433.34 54.6 427.53 55.0 422.18 55.3 417.32 55.6 412.99 56.0 409.22 56.4 406.05 56.7 403.49 57.0 401.57 57.4 400.29 57.8 399.68 58.1 399.72 58.5 400.43 58.8 401.80 59.1 403.81 59.5 406.46 59.9 409.72 60.2 413.56 60.5 417.97 60.9 422.90 61.2 428.32 61.6 434.19 62.0 440.47 62.3 447.11 62.6 454.05 63.0 461.25 63.4 468.66 63.7 476.21 64.0 483.85 64.4 491.53 64.8 499.19 65.1 506.77 65.5 514.21 65.8 521.46 66.2 528.46 66.5 535.17 66.8 541.53 67.2 547.49 67.5 553.01 67.9 558.05 68.2 562.57 68.6 566.54 69.0 569.93 69.3 572.71 69.7 574.86 70.0 576.36 70.3 577.21 70.7 577.40 71.0 576.92 71.4 575.79 71.8 574.00 72.1 571.57 72.5 568.53 72.8 564.89 73.2 560.67 73.5 555.92 73.8 550.66 74.2 544.95 74.5 538.80 74.9 532.29 75.2 525.45 75.6 518.33 76.0 510.98 76.3 503.47 76.7 495.85 77.0 488.18 77.3 480.50 77.7 472.89 78.0 465.39 78.4 458.06 78.8 450.96 79.1 444.14 79.5 437.66 79.8 431.55 80.2 425.86 80.5 420.65 80.8 415.94 81.2 411.77 81.5 408.17 81.9 405.18 82.2 402.80 82.6 401.07 82.9 399.98 83.3 399.56 83.7 399.80 84.0 400.71 84.3 402.27 84.7 404.47 85.0 407.30 85.4 410.74 85.8 414.75 86.1 419.32 86.4 424.40 86.8 429.97 87.2 435.97 87.5 442.36 87.8 449.09 88.2 456.12 88.5 463.39 88.9 470.85 89.2 478.45 89.6 486.11 89.9 493.80 90.3 501.44 90.7 508.99 91.0 516.39 91.3 523.57 91.7 530.50 92.0 537.11 92.4 543.36 92.8 549.20 93.1 554.59 93.4 559.49 93.8 563.85 94.2 567.65 94.5 570.86 94.8 573.46 95.2 575.42 95.5 576.74 95.9 577.39 96.2 577.39 96.6 576.72 96.9 575.39 97.3 573.41 97.7 570.80 98.0 567.57 98.3 563.75 98.7 559.38 99.0 554.47 99.4 549.07 99.8 543.22 100.1 536.96 100.4 530.33 100.8 523.40 101.2 516.20 101.5 508.80 101.8 501.25 102.2 493.60 102.5 485.91 102.9 478.25 103.2 470.65 103.6 463.19 103.9 455.93 104.3 448.90 104.7 442.17 105.0 435.78 105.3 429.79 105.7 424.23 106.0 419.16 106.4 414.60 106.8 410.60 107.1 407.17 107.4 404.36 107.8 402.17 108.2 400.62 108.5 399.73 108.8 399.50 109.2 399.94 109.5 401.04 109.9 402.79 110.2 405.18 110.6 408.20 110.9 411.81 111.3 415.99 111.7 420.72 112.0 425.95 112.3 431.65 112.7 437.77 113.0 444.28 113.4 451.11 113.8 458.22 114.1 465.56 114.5 473.07 114.8 480.69 115.1 488.37 115.5 496.06 115.8 503.69 116.2 511.20 116.5 518.54 116.9 525.67 117.2 532.51 117.6 539.03 117.9 545.16 118.3 550.88 118.6 556.13 119.0 560.87 119.3 565.08 119.7 568.71 120.0 571.75 120.4 574.16 120.8 575.94 121.1 577.06 121.4 577.52 121.8 577.32 122.1 576.45 122.5 574.93 122.8 572.76 123.2 569.96 123.5 566.56 123.9 562.57 124.2 558.03 124.6 552.97 124.9 547.43 125.3 541.45 125.6 535.07 126.0 528.35 126.3 521.33 126.7 514.06 127.0 506.61 127.4 499.01 127.8 491.34 128.1 483.65 128.4 475.99 128.8 468.43 129.1 461.01 129.5 453.81 129.8 446.86 130.2 440.22 130.6 433.94 130.9 428.07 131.2 422.65 131.6 417.72 131.9 413.31 132.3 409.47 132.6 406.22 133.0 403.59 133.3 401.59 133.7 400.23 134.1 399.54 134.4 399.50 134.8 400.14 135.1 401.43 135.4 403.37 135.8 405.95 136.1 409.14 136.5 412.93 136.8 417.28 137.2 422.16 137.6 427.54 137.9 433.37 138.2 439.62 138.6 446.23 138.9 453.15 139.3 460.34 139.6 467.74 140.0 475.29 140.3 482.94 140.7 490.64 141.1 498.32 141.4 505.92 141.8 513.40 142.1 520.69 142.4 527.74 142.8 534.49 143.1 540.91 143.5 546.93 143.8 552.52 144.2 557.63 144.6 562.22 144.9 566.26 145.2 569.73 145.6 572.58 145.9 574.81 146.3 576.40 146.6 577.32 147.0 577.59 147.3 577.19 147.7 576.13 148.1 574.41 148.4 572.06 148.8 569.08 149.1 565.50 149.4 561.34 149.8 556.64 150.1 551.43 150.5 545.75 150.8 539.65 151.2 533.16 151.6 526.34 151.9 519.23 152.2 511.90 152.6 504.39 152.9 496.77 153.3 489.08 153.6 481.38 154.0 473.74 154.3 466.21 154.7 458.85 155.1 451.71 155.4 444.84 155.8 438.30 156.1 432.13 156.4 426.38 156.8 421.10 157.1 416.32 157.5 412.07 157.8 408.40 158.2 405.33 158.6 402.87 158.9 401.06 159.2 399.90 159.6 399.40 159.9 399.56 160.3 400.39 160.6 401.88 161.0 404.01 161.3 406.77 161.7 410.15 162.1 414.10 162.4 418.62 162.8 423.65 163.1 429.17 163.4 435.13 163.8 441.49 164.1 448.21 164.5 455.22 164.8 462.48 165.2 469.93 165.6 477.53 165.9 485.20 166.2 492.91 166.6 500.57 166.9 508.15 167.3 515.58 167.6 522.81 168.0 529.79 168.3 536.45 168.7 542.76 169.1 548.66 169.4 554.12 169.8 559.08 170.1 563.52 170.4 567.40 170.8 570.68 171.1 573.36 171.5 575.40 171.8 576.80 172.2 577.53 172.6 577.60 172.9 577.01 173.2 575.75 173.6 573.84 173.9 571.30 174.3 568.14 174.6 564.38 175.0 560.06 175.3 555.20 175.7 549.85 176.1 544.04 176.4 537.81 176.8 531.21 177.1 524.30 177.4 517.12 177.8 509.72 178.2 502.17 178.5 494.51 178.8 486.81 179.2 479.12 179.5 471.50 179.9 464.01 180.2 456.70 180.6 449.63 180.9 442.85 181.3 436.41 181.7 430.35 182.0 424.73 182.3 419.59 182.7 414.96 183.0 410.88 183.4 407.38 183.8 404.48 184.1 402.22 184.4 400.59 184.8 399.62 185.1 399.32 185.5 399.68 185.8 400.70 186.2 402.38 186.5 404.70 186.9 407.65 187.2 411.20 187.6 415.33 187.9 420.00 188.3 425.19 188.6 430.84 189.0 436.93 189.3 443.41 189.7 450.22 190.0 457.31 190.4 464.64 190.8 472.15 191.1 479.78 191.4 487.47 191.8 495.17 192.1 502.83 192.5 510.37 192.8 517.75 193.2 524.92 193.5 531.81 193.9 538.38 194.2 544.58 194.6 550.36 194.9 555.67 195.3 560.49 195.6 564.77 196.0 568.48 196.3 571.59 196.7 574.09 197.0 575.94 197.4 577.14 197.8 577.68 198.1 577.55 198.4 576.76 198.8 575.32 199.1 573.22 199.5 570.49 199.8 567.15 200.2 563.22 200.5 558.73 200.9 553.72 201.2 548.22 201.6 542.28 201.9 535.94 202.3 529.24 202.6 522.23 203.0 514.98 203.3 507.53 203.7 499.93 204.0 492.25 204.4 484.54 204.8 476.86 205.1 469.27 205.4 461.82 205.8 454.57 206.1 447.57 206.5 440.88 206.8 434.55 207.2 428.61 207.5 423.12 207.9 418.13 208.2 413.65 208.6 409.74 208.9 406.41 209.3 403.69 209.6 401.61 210.0 400.18 210.3 399.40 210.7 399.29 211.0 399.85 211.4 401.07 211.8 402.94 212.1 405.45 212.4 408.58 212.8 412.30 213.1 416.60 213.5 421.43 213.8 426.76 214.2 432.56 214.5 438.77 214.9 445.35 215.2 452.25 215.6 459.43 215.9 466.82 216.3 474.37 216.6 482.03 217.0 489.74 217.3 497.44 217.7 505.07 218.0 512.58 218.4 519.91 218.8 527.00 219.1 533.81 219.4 540.28 219.8 546.36 220.1 552.01 220.5 557.19 220.8 561.86 221.2 565.97 221.5 569.51 221.9 572.45 222.2 574.76 222.6 576.42 222.9 577.43 223.3 577.77 223.6 577.45 224.0 576.46 224.3 574.82 224.7 572.54 225.0 569.62 225.4 566.10 225.8 562.00 226.1 557.36 226.4 552.19 226.8 546.56 227.1 540.49 227.5 534.03 227.8 527.23 228.2 520.14 228.5 512.82 228.9 505.31 229.2 497.68 229.6 489.98 229.9 482.27 230.3 474.61 230.6 467.05 231.0 459.64 231.3 452.46 231.7 445.54 232.0 438.94 232.4 432.72 232.8 426.91 233.1 421.56 233.4 416.70 233.8 412.39 234.1 408.64 234.5 405.49 234.8 402.96 235.2 401.06 235.5 399.82 235.9 399.24 236.2 399.33 236.6 400.08 236.9 401.49 237.3 403.56 237.6 406.25 238.0 409.56 238.3 413.46 238.7 417.92 239.0 422.91 239.4 428.38 239.8 434.31 240.1 440.63 240.4 447.32 240.8 454.31 241.1 461.56 241.5 469.01 241.8 476.61 242.2 484.29 242.5 492.01 242.9 499.70 243.2 507.31 243.6 514.77 243.9 522.05 244.3 529.07 244.6 535.78 245.0 542.15 245.3 548.11 245.7 553.63 246.0 558.67 246.4 563.18 246.8 567.13 247.1 570.50 247.4 573.25 247.8 575.37 248.1 576.84 248.5 577.66 248.8 577.81 249.2 577.29 249.5 576.11 249.9 574.27 250.2 571.80 250.6 568.70 250.9 565.01 251.3 560.74 251.6 555.93 252.0 550.63 252.3 544.85 252.7 538.66 253.0 532.09 253.4 525.20 253.8 518.03 254.1 510.64 254.4 503.09 254.8 495.43 255.1 487.71 255.5 480.00 255.8 472.36 256.2 464.83 256.5 457.48 256.9 450.37 257.2 443.53 257.6 437.04 257.9 430.92 258.3 425.24 258.6 420.03 259.0 415.33 259.4 411.17 259.7 407.60 260.0 404.62 260.4 402.28 260.8 400.57 261.1 399.52 261.4 399.14 261.8 399.42 262.1 400.37 262.5 401.98 262.9 404.23 263.2 407.11 263.5 410.60 263.9 414.67 264.2 419.29 264.6 424.43 264.9 430.04 265.3 436.09 265.6 442.54 266.0 449.32 266.4 456.40 266.7 463.72 267.0 471.23 267.4 478.86 267.8 486.56 268.1 494.28 268.4 501.96 268.8 509.54 269.1 516.96 269.5 524.16 269.9 531.10 270.2 537.73 270.5 543.98 270.9 549.83 271.2 555.21 271.6 560.10 271.9 564.45 272.3 568.24 272.6 571.43 273.0 574.00 273.4 575.93 273.7 577.21 274.0 577.83 274.4 577.78 274.8 577.07 275.1 575.69 275.4 573.67 275.8 571.01 276.1 567.73 276.5 563.86 276.9 559.43 277.2 554.47 277.5 549.01 277.9 543.11 278.2 536.79 278.6 530.12 278.9 523.14 279.3 515.89 279.6 508.45 280.0 500.85 280.4 493.16 280.7 485.44 281.0 477.74 281.4 470.12 281.8 462.63 282.1 455.34 282.4 448.30 282.8 441.55 283.1 435.16 283.5 429.17 283.9 423.61 284.2 418.54 284.5 414.00 284.9 410.01 285.2 406.60 285.6 403.81 285.9 401.65 286.3 400.14 286.6 399.28 287.0 399.09 287.4 399.57 287.7 400.72 288.0 402.52 288.4 404.96 288.8 408.02 289.1 411.68 289.4 415.92 289.8 420.70 290.1 425.99 290.5 431.74 290.9 437.92 291.2 444.47 291.5 451.35 291.9 458.51 292.2 465.90 292.6 473.45 292.9 481.12 293.3 488.84 293.6 496.55 294.0 504.21 294.4 511.75 294.7 519.12 295.0 526.26 295.4 533.12 295.8 539.64 296.1 545.79 296.4 551.50 296.8 556.75 297.1 561.48 297.5 565.68 297.9 569.29 298.2 572.30 298.5 574.69 298.9 576.43 299.2 577.52 299.6 577.95 299.9 577.70 300.3 576.79 300.6 575.22 301.0 573.01 301.4 570.16 301.7 566.70 302.0 562.66 302.4 558.07 302.8 552.95 303.1 547.36 303.4 541.33 303.8 534.90 304.1 528.12 304.5 521.05 304.9 513.74 305.2 506.24 305.6 498.60 305.9 490.89 306.2 483.16 306.6 475.47 306.9 467.88 307.3 460.45 307.6 453.22 308.0 446.25 308.3 439.60 308.7 433.32 309.1 427.44 309.4 422.02 309.8 417.10 310.1 412.71 310.4 408.89 310.8 405.66 311.1 403.05 311.5 401.08 311.8 399.76 312.2 399.10 312.6 399.11 312.9 399.78 313.2 401.12 313.6 403.11 313.9 405.74 314.3 408.98 314.6 412.82 315.0 417.23 315.3 422.16 315.7 427.59 316.1 433.48 316.4 439.78 316.8 446.44 317.1 453.41 317.4 460.65 317.8 468.09 318.1 475.69 318.5 483.38 318.8 491.11 319.2 498.82 319.5 506.46 319.9 513.96 320.2 521.27 320.6 528.34 320.9 535.11 321.3 541.53 321.6 547.55 322.0 553.14 322.3 558.24 322.7 562.82 323.0 566.85 323.4 570.30 323.8 573.13 324.1 575.33 324.4 576.88 324.8 577.78 325.1 578.00 325.5 577.56 325.8 576.46 326.2 574.69 326.5 572.29 326.9 569.26 327.2 565.62 327.6 561.41 327.9 556.66 328.3 551.40 328.6 545.67 329.0 539.51 329.3 532.97 329.7 526.10 330.0 518.94 330.4 511.56 330.8 504.01 331.1 496.34 331.4 488.62 331.8 480.89 332.1 473.22 332.5 465.66 332.8 458.27 333.2 451.11 333.5 444.23 333.9 437.68 334.2 431.50 334.6 425.76 334.9 420.48 335.3 415.71 335.6 411.48 336.0 407.82 336.3 404.77 336.7 402.35 337.0 400.56 337.4 399.43 337.8 398.97 338.1 399.18 338.4 400.05 338.8 401.58 339.1 403.76 339.5 406.58 339.8 410.00 340.2 414.01 340.5 418.58 340.9 423.67 341.2 429.24 341.6 435.26 341.9 441.67 342.3 448.43 342.6 455.49 343.0 462.80 343.3 470.30 343.7 477.94 344.0 485.65 344.4 493.39 344.8 501.09 345.1 508.70 345.4 516.15 345.8 523.40 346.1 530.39 346.5 537.07 346.8 543.38 347.2 549.29 347.5 554.74 347.9 559.69 348.2 564.12 348.6 567.98 348.9 571.25 349.3 573.90 349.6 575.91 350.0 577.27 350.3 577.97 350.7 578.00 351.0 577.36 351.4 576.06 351.8 574.11 352.1 571.52 352.4 568.30 352.8 564.49 353.1 560.12 353.5 555.21 353.8 549.80 354.2 543.93 354.5 537.65 354.9 531.01 355.2 524.04 355.6 516.81 355.9 509.37 356.3 501.77 356.6 494.08 357.0 486.34 357.3 478.62 357.7 470.97 358.0 463.45 358.4 456.12 358.8 449.03 359.1 442.23 359.4 435.78 359.8 429.73 360.1 424.11 360.5 418.97 360.8 414.35 361.2 410.29 361.5 406.81 361.9 403.94 362.2 401.70 362.6 400.10 362.9 399.17 363.3 398.90 363.6 399.30 364.0 400.37 364.3 402.10 364.7 404.47 365.0 407.47 365.4 411.07 365.8 415.25 366.1 419.98 366.4 425.22 366.8 430.93 367.1 437.07 367.5 443.60 367.8 450.46 368.2 457.60 368.5 464.98 368.9 472.53 369.2 480.20 369.6 487.93 369.9 495.67 370.3 503.35 370.6 510.92 371.0 518.33 371.3 525.51 371.7 532.42 372.0 539.00 372.4 545.20 372.8 550.98 373.1 556.29 373.4 561.10 373.8 565.37 374.1 569.06 374.5 572.15 374.8 574.62 375.2 576.44 375.5 577.61 375.9 578.11 376.2 577.94 376.6 577.11 376.9 575.61 377.3 573.47 377.6 570.69 378.0 567.29 378.3 563.31 378.7 558.77 379.0 553.71 379.4 548.16 379.8 542.16 380.1 535.76 380.4 529.01 380.8 521.96 381.1 514.66 381.5 507.16 381.8 499.52 382.2 491.80 382.5 484.06 382.9 476.35 383.2 468.73 383.6 461.25 383.9 453.98 384.3 446.97 384.6 440.27 385.0 433.92 385.3 427.99 385.7 422.50 386.0 417.51 386.4 413.05 386.8 409.15 387.1 405.84 387.4 403.15 387.8 401.10 388.1 399.70 388.5 398.96 388.8 398.89 389.2 399.49 389.5 400.75 389.9 402.67 390.2 405.23 390.6 408.41 390.9 412.19 391.3 416.54 391.6 421.42 392.0 426.81 392.3 432.66 392.7 438.92 393.0 445.55 393.4 452.51 393.8 459.73 394.1 467.17 394.4 474.77 394.8 482.47 395.1 490.21 395.5 497.94 395.8 505.60 396.2 513.14 396.5 520.49 396.9 527.60 397.2 534.42 397.6 540.90 397.9 546.99 398.3 552.64 398.6 557.81 399.0 562.46 399.3 566.57 399.7 570.09 400.0 573.00 400.4 575.28 400.8 576.91 401.1 577.88 401.4 578.19 401.8 577.83 402.1 576.80 402.5 575.11 402.8 572.77 403.2 569.81 403.5 566.23 403.9 562.08 404.2 557.38 404.6 552.17 404.9 546.48 405.3 540.35 405.6 533.84 406.0 526.99 406.3 519.86 406.7 512.49 407.0 504.94 407.4 497.26 407.8 489.52 408.1 481.78 408.4 474.08 408.8 466.49 409.1 459.07 409.5 451.86 409.8 444.93 410.2 438.33 410.5 432.09 410.9 426.28 411.2 420.94 411.6 416.09 411.9 411.79 412.3 408.06 412.6 404.93 413.0 402.42 413.3 400.56 413.7 399.35 414.0 398.81 414.4 398.94 414.8 399.74 415.1 401.19 415.4 403.30 415.8 406.05 416.1 409.41 416.5 413.36 416.8 417.88 417.2 422.92 417.5 428.44 417.9 434.42 418.2 440.80 418.6 447.54 418.9 454.59 419.3 461.88 419.6 469.38 420.0 477.02 420.3 484.74 420.7 492.49 421.0 500.22 421.4 507.85 421.8 515.34 422.1 522.63 422.4 529.67 422.8 536.40 423.1 542.77 423.5 548.74 423.8 554.25 424.2 559.28 424.5 563.78 424.9 567.72 425.2 571.06 425.6 573.79 425.9 575.88 426.3 577.33 426.6 578.10 427.0 578.21 427.3 577.65 427.7 576.43 428.0 574.54 428.4 572.02 428.8 568.87 429.1 565.12 429.4 560.80 429.8 555.94 430.1 550.58 430.5 544.75 430.8 538.51 431.2 531.89 431.5 524.94 431.9 517.73 432.2 510.29 432.6 502.70 432.9 494.99 433.3 487.24 433.6 479.50 434.0 471.82 434.3 464.27 434.7 456.90 435.0 449.77 435.4 442.92 435.8 436.42 436.1 430.30 436.4 424.62 436.8 419.41 437.1 414.72 437.5 410.58 437.8 407.02 438.2 404.07 438.5 401.75 438.9 400.08 439.2 399.07 439.6 398.72 439.9 399.04 440.3 400.04 440.6 401.69 441.0 403.99 441.3 406.92 441.7 410.46 442.0 414.58 442.4 419.26 442.8 424.45 443.1 430.12 443.4 436.23 443.8 442.72 444.1 449.56 444.5 456.69 444.8 464.05 445.2 471.60 445.5 479.28 445.9 487.02 446.2 494.78 446.6 502.48 446.9 510.09 447.3 517.53 447.6 524.76 448.0 531.71 448.3 538.35 448.7 544.61 449.0 550.45 449.4 555.83 449.8 560.71 450.1 565.05 450.4 568.82 450.8 571.99 451.1 574.53 451.5 576.44 451.8 577.68 452.2 578.26 452.5 578.18 452.9 577.42 453.2 576.00 453.6 573.92 453.9 571.21 454.3 567.88 454.6 563.96 455.0 559.47 455.3 554.46 455.7 548.95 456.0 542.99 456.4 536.63 456.8 529.90 457.1 522.87 457.4 515.58 457.8 508.09 458.1 500.45 458.5 492.72 458.8 484.96 459.2 477.22 459.5 469.57 459.9 462.07 460.2 454.75 460.6 447.69 460.9 440.94 461.3 434.54 461.6 428.54 462.0 422.99 462.3 417.93 462.7 413.39 463.0 409.42 463.4 406.03 463.8 403.27 464.1 401.13 464.4 399.65 464.8 398.83 465.1 398.69 465.5 399.21 465.8 400.40 466.2 402.24 466.5 404.73 466.9 407.85 467.2 411.56 467.6 415.86 467.9 420.69 468.3 426.03 468.6 431.84 469.0 438.07 469.3 444.67 469.7 451.60 470.0 458.81 470.4 466.24 470.8 473.84 471.1 481.55 471.4 489.30 471.8 497.06 472.1 504.75 472.5 512.31 472.8 519.70 473.2 526.86 473.5 533.73 473.9 540.26 474.2 546.41 474.6 552.13 474.9 557.37 475.3 562.09 475.6 566.27 476.0 569.87 476.3 572.86 476.7 575.22 477.0 576.93 477.4 577.98 477.8 578.37 478.1 578.08 478.4 577.13 478.8 575.51 479.1 573.25 479.5 570.35 479.8 566.84 480.2 562.75 480.5 558.10 480.9 552.93 481.2 547.28 481.6 541.20 481.9 534.71 482.3 527.89 482.6 520.77 483.0 513.41 483.3 505.86 483.7 498.19 484.0 490.44 484.4 482.67 484.8 474.95 485.1 467.33 485.4 459.87 485.8 452.62 486.1 445.64 486.5 438.98 486.8 432.69 487.2 426.82 487.5 421.40 487.9 416.49 488.2 412.11 488.6 408.31 488.9 405.10 489.3 402.51 489.6 400.57 490.0 399.28 490.3 398.66 490.7 398.71 491.0 399.43 491.4 400.81 491.8 402.85 492.1 405.53 492.4 408.83 492.8 412.72 493.1 417.18 493.5 422.17 493.8 427.65 494.2 433.59 494.5 439.94 494.9 446.65 495.2 453.68 495.6 460.96 495.9 468.45 496.3 476.09 496.6 483.82 497.0 491.59 497.3 499.34 497.7 507.00 498.0 514.53 498.4 521.86 498.7 528.94 499.1 535.72 499.4 542.15 499.8 548.18 500.1 553.76 500.5 558.86 500.8 563.43 501.2 567.44 501.5 570.87 501.9 573.67 502.2 575.85 502.6 577.37 502.9 578.23 503.3 578.41 503.6 577.93 504.0 576.78 504.3 574.97 504.7 572.51 505.0 569.43 505.4 565.75 505.7 561.48 506.1 556.68 506.4 551.36 506.8 545.57 507.1 539.36 507.5 532.77 507.8 525.85 508.2 518.65 508.5 511.22 508.9 503.62 509.2 495.91 509.6 488.15 509.9 480.39 510.3 472.69 510.6 465.10 511.0 457.69 511.3 450.51 511.7 443.62 512.0 437.06 512.4 430.88 512.8 425.13 513.1 419.86 513.5 415.10 513.8 410.88 514.1 407.25 514.5 404.22 514.8 401.82 515.2 400.06 515.5 398.97 515.9 398.55 516.2 398.79 516.6 399.71 517.0 401.29 517.3 403.52 517.6 406.38 518.0 409.86 518.3 413.92 518.7 418.55 519.0 423.69 519.4 429.32 519.8 435.38 520.1 441.85 520.5 448.66 520.8 455.77 521.1 463.13 521.5 470.67 521.8 478.35 522.2 486.11 522.5 493.88 522.9 501.61 523.2 509.24 523.6 516.72 524.0 523.99 524.3 531.00 524.6 537.69 525.0 544.01 525.3 549.91 525.7 555.36 526.0 560.31 526.4 564.72 526.8 568.57 527.1 571.81 527.5 574.44 527.8 576.42 528.1 577.75 528.5 578.41 528.8 578.40 529.2 577.72 529.5 576.37 529.9 574.37 530.2 571.73 530.6 568.46 531.0 564.60 531.3 560.17 531.6 555.21 532.0 549.74 532.3 543.82 532.7 537.49 533.0 530.79 533.4 523.78 533.8 516.50 534.1 509.01 534.5 501.37 534.8 493.64 535.1 485.86 535.5 478.11 535.8 470.43 536.2 462.88 536.5 455.53 536.9 448.43 537.2 441.62 537.6 435.16 538.0 429.10 538.3 423.49 538.6 418.36 539.0 413.75 539.3 409.70 539.7 406.24 540.0 403.39 540.4 401.18 540.8 399.61 541.1 398.72 541.5 398.49 541.8 398.93 542.1 400.05 542.5 401.82 542.8 404.24 543.2 407.29 543.5 410.94 543.9 415.18 544.2 419.96 544.6 425.25 545.0 431.02 545.3 437.21 545.6 443.79 546.0 450.70 546.3 457.90 546.7 465.32 547.0 472.91 547.4 480.62 547.8 488.39 548.1 496.17 548.5 503.88 548.8 511.48 549.1 518.91 549.5 526.11 549.8 533.03 550.2 539.62 550.5 545.83 550.9 551.61 551.2 556.91 551.6 561.71 552.0 565.96 552.3 569.64 552.6 572.71 553.0 575.15 553.3 576.94 553.7 578.07 554.0 578.54 554.4 578.33 554.8 577.45 555.1 575.91 555.5 573.71 555.8 570.88 556.1 567.44 556.5 563.40 556.8 558.81 557.2 553.69 557.5 548.09 557.9 542.04 558.2 535.59 558.6 528.79 559.0 521.68 559.3 514.33 559.6 506.79 560.0 499.11 560.3 491.35 560.7 483.57 561.0 475.83 561.4 468.18 561.8 460.68 562.1 453.39 562.4 446.36 562.8 439.65 563.1 433.30 563.5 427.36 563.9 421.88 564.2 416.90 564.5 412.45 564.9 408.56 565.2 405.28 565.6 402.61 565.9 400.59 566.3 399.22 566.6 398.52 567.0 398.49 567.4 399.13 567.7 400.44 568.0 402.41 568.4 405.02 568.8 408.25 569.1 412.08 569.4 416.48 569.8 421.42 570.1 426.86 570.5 432.76 570.9 439.08 571.2 445.76 571.5 452.77 571.9 460.04 572.2 467.52 572.6 475.16 572.9 482.90 573.3 490.69 573.6 498.45 574.0 506.14 574.4 513.70 574.7 521.08 575.0 528.20 575.4 535.04 575.8 541.52 576.1 547.61 576.4 553.26 576.8 558.43 577.1 563.07 577.5 567.16 577.9 570.66 578.2 573.55 578.5 575.80 578.9 577.40 579.2 578.34 579.6 578.60 579.9 578.20 580.3 577.12 580.6 575.39 581.0 573.00 581.4 569.99 581.7 566.36 582.0 562.16 582.4 557.40 582.8 552.13 583.1 546.39 583.4 540.21 583.8 533.65 584.1 526.75 584.5 519.56 584.9 512.15 585.2 504.55 585.5 496.84 585.9 489.06 586.2 481.28 586.6 473.55 586.9 465.94 587.3 458.49 587.6 451.27 588.0 444.32 588.3 437.71 588.7 431.47 589.0 425.66 589.4 420.31 589.8 415.48 590.1 411.19 590.4 407.48 590.8 404.37 591.1 401.89 591.5 400.06 591.8 398.89 592.2 398.38 592.5 398.55 592.9 399.39 593.2 400.90 593.6 403.05 593.9 405.85 594.3 409.26 594.6 413.27 595.0 417.84 595.3 422.93 595.7 428.51 596.0 434.54 596.4 440.98 596.8 447.77 597.1 454.86 597.4 462.20 597.8 469.75 598.1 477.43 598.5 485.19 598.8 492.98 599.2 500.73 599.5 508.40 599.9 515.91 600.2 523.22 600.6 530.28 600.9 537.02 601.3 543.39 601.6 549.36 602.0 554.88 602.3 559.90 602.7 564.38 603.0 568.30 603.4 571.63 603.8 574.33 604.1 576.40 604.4 577.80 604.8 578.55 605.1 578.61 605.5 578.01 605.8 576.74 606.2 574.81 606.5 572.24 606.9 569.04 607.2 565.24 607.6 560.86 607.9 555.95 608.3 550.53 608.6 544.65 609.0 538.35 609.3 531.68 609.7 524.69 610.0 517.42 610.4 509.94 610.8 502.30 611.1 494.56 611.4 486.77 611.8 478.99 612.1 471.29 612.5 463.71 612.8 456.32 613.2 449.17 613.5 442.31 613.9 435.79 614.2 429.67 614.6 423.99 614.9 418.79 615.3 414.11 615.6 409.99 616.0 406.45 616.3 403.52 616.7 401.23 617.0 399.59 617.4 398.61 617.8 398.30 618.1 398.67 618.4 399.71 618.8 401.41 619.1 403.76 619.5 406.74 619.8 410.33 620.2 414.51 620.5 419.24 620.9 424.48 621.2 430.20 621.6 436.36 621.9 442.91 622.3 449.80 622.6 456.98 623.0 464.39 623.3 471.98 623.7 479.70 624.0 487.48 624.4 495.27 624.8 503.01 625.1 510.64 625.4 518.11 625.8 525.35 626.1 532.32 626.5 538.97 626.8 545.23 627.2 551.08 627.5 556.45 627.9 561.32 628.2 565.65 628.6 569.40 628.9 572.55 629.3 575.07 629.6 576.94 630.0 578.15 630.3 578.70 630.7 578.57 631.0 577.77 631.4 576.30 631.8 574.17 632.1 571.41 632.4 568.03 632.8 564.06 633.1 559.52 633.5 554.45 633.8 548.89 634.2 542.87 634.5 536.46 634.9 529.68 635.2 522.60 635.6 515.26 635.9 507.72 636.3 500.04 636.6 492.27 637.0 484.47 637.3 476.71 637.7 469.03 638.0 461.50 638.4 454.16 638.8 447.09 639.1 440.32 639.4 433.91 639.8 427.91 640.1 422.37 640.5 417.31 640.8 412.79 641.2 408.83 641.5 405.47 641.9 402.72 642.2 400.62 642.6 399.17 642.9 398.39 643.3 398.28 643.6 398.85 644.0 400.08 644.3 401.97 644.7 404.51 645.0 407.68 645.4 411.45 645.8 415.79 646.1 420.68 646.4 426.08 646.8 431.94 647.1 438.22 647.5 444.88 647.8 451.86 648.2 459.12 648.5 466.59 648.9 474.23 649.2 481.98 649.6 489.78 649.9 497.56 650.3 505.28 650.6 512.87 651.0 520.29 651.3 527.46 651.7 534.34 652.0 540.89 652.4 547.04 652.8 552.75 653.1 557.99 653.4 562.70 653.8 566.87 654.1 570.44 654.5 573.41 654.8 575.74 655.2 577.42 655.5 578.44 655.9 578.79 656.2 578.46 656.6 577.46 656.9 575.80 657.3 573.48 657.6 570.53 658.0 566.97 658.3 562.83 658.7 558.12 659.0 552.90 659.4 547.20 659.8 541.06 660.1 534.53 660.4 527.65 660.8 520.48 661.1 513.07 661.5 505.48 661.8 497.76 662.2 489.98 662.5 482.18 662.9 474.43 663.2 466.78 663.6 459.30 663.9 452.03 664.3 445.03 664.6 438.36 665.0 432.07 665.3 426.19 665.7 420.78 666.0 415.88 666.4 411.51 666.8 407.72 667.1 404.54 667.4 401.98 667.8 400.07 668.1 398.81 668.5 398.23 668.8 398.32 669.2 399.08 669.5 400.51 669.9 402.60 670.2 405.33 670.6 408.68 670.9 412.62 671.3 417.13 671.6 422.18 672.0 427.71 672.3 433.71 672.7 440.11 673.0 446.87 673.4 453.95 673.8 461.28 674.1 468.81 674.4 476.50 674.8 484.27 675.1 492.07 675.5 499.85 675.8 507.54 676.2 515.09 676.5 522.45 676.9 529.55 677.2 536.34 677.6 542.78 677.9 548.81 678.3 554.39 678.6 559.48 679.0 564.04 679.3 568.03 679.7 571.44 680.0 574.22 680.4 576.36 680.8 577.85 681.1 578.67 681.4 578.82 681.8 578.29 682.1 577.10 682.5 575.24 682.8 572.74 683.2 569.60 683.5 565.86 683.9 561.55 684.2 556.69 684.6 551.31 684.9 545.48 685.3 539.21 685.6 532.57 686.0 525.59 686.3 518.34 686.7 510.87 687.0 503.23 687.4 495.48 687.8 487.68 688.1 479.88 688.4 472.15 688.8 464.54 689.1 457.11 689.5 449.91 689.8 443.00 690.2 436.43 690.5 430.25 690.9 424.51 691.2 419.24 691.6 414.48 691.9 410.28 692.3 406.67 692.6 403.66 693.0 401.29 693.3 399.57 693.7 398.51 694.0 398.12 694.4 398.41 694.8 399.37 695.1 401.00 695.4 403.28 695.8 406.19 696.1 409.72 696.5 413.84 696.8 418.52 697.2 423.71 697.5 429.39 697.9 435.52 698.2 442.03 698.6 448.90 698.9 456.06 699.3 463.46 699.6 471.05 700.0 478.77 700.3 486.56 700.7 494.37 701.0 502.14 701.4 509.80 701.8 517.30 702.1 524.59 702.4 531.61 702.8 538.31 703.1 544.63 703.5 550.54 703.8 555.98 704.2 560.92 704.5 565.32 704.9 569.15 705.2 572.38 705.6 574.97 705.9 576.93 706.3 578.22 706.6 578.85 707.0 578.80 707.3 578.07 707.7 576.68 708.0 574.63 708.4 571.93 708.8 568.62 709.1 564.70 709.4 560.22 709.8 555.20 710.1 549.68 710.5 543.71 710.8 537.32 711.2 530.57 711.5 523.51 711.9 516.18 712.2 508.65 712.6 500.97 712.9 493.19 713.3 485.38 713.6 477.59 714.0 469.89 714.3 462.32 714.7 454.94 715.0 447.82 715.4 441.00 715.8 434.54 716.1 428.48 716.4 422.86 716.8 417.74 717.1 413.14 717.5 409.11 717.8 405.66 718.2 402.84 718.5 400.66 718.9 399.13 719.2 398.27 719.6 398.08 719.9 398.57 720.3 399.73 720.6 401.55 721.0 404.02 721.3 407.12 721.7 410.82 722.0 415.11 722.4 419.95 722.8 425.29 723.1 431.11 723.4 437.36 723.8 443.99 724.1 450.95 724.5 458.19 724.8 465.66 725.2 473.30 725.5 481.05 725.9 488.86 726.2 496.67 726.6 504.41 726.9 512.04 727.3 519.49 727.6 526.71 728.0 533.64 728.3 540.24 728.7 546.45 729.0 552.23 729.4 557.54 729.8 562.32 730.1 566.56 730.4 570.22 730.8 573.26 731.1 575.67 731.5 577.44 731.8 578.53 732.2 578.96 732.5 578.71 732.9 577.79 733.2 576.20 733.6 573.96 733.9 571.08 734.3 567.58 734.6 563.49 735.0 558.84 735.3 553.67 735.7 548.01 736.0 541.91 736.4 535.40 736.8 528.55 737.1 521.40 737.4 514.00 737.8 506.42 738.1 498.69 738.5 490.90 738.8 483.08 739.2 475.30 739.5 467.63 739.9 460.11 740.2 452.80 740.6 445.75 740.9 439.03 741.3 432.67 741.6 426.73 742.0 421.26 742.3 416.28 742.7 411.84 743.0 407.98 743.4 404.71 743.8 402.07 744.1 400.08 744.4 398.75 744.8 398.08 745.1 398.09 745.5 398.78 745.8 400.13 746.2 402.15 746.5 404.81 746.9 408.09 747.2 411.98 747.6 416.43 747.9 421.43 748.3 426.92 748.6 432.87 749.0 439.24 749.3 445.98 749.7 453.03 750.0 460.35 750.4 467.88 750.8 475.57 751.1 483.35 751.4 491.16 751.8 498.96 752.1 506.68 752.5 514.27 752.8 521.66 753.2 528.81 753.5 535.65 753.9 542.15 754.2 548.24 754.6 553.89 754.9 559.05 755.3 563.68 755.6 567.75 756.0 571.23 756.3 574.10 756.7 576.32 757.0 577.89 757.4 578.79 757.8 579.02 758.1 578.57 758.4 577.45 758.8 575.67 759.1 573.23 759.5 570.16 759.8 566.49 760.2 562.23 760.5 557.42 760.9 552.09 761.2 546.30 761.6 540.07 761.9 533.45 762.3 526.50 762.6 519.27 763.0 511.80 763.3 504.16 763.7 496.41 764.0 488.60 764.4 480.78 764.8 473.02 765.1 465.38 765.4 457.91 765.8 450.67 766.1 443.71 766.5 437.08 766.8 430.84 767.2 425.03 767.5 419.69 767.9 414.87 768.2 410.59 768.6 406.90 768.9 403.82 769.3 401.36 769.6 399.56 770.0 398.42 770.3 397.96 770.7 398.17 771.0 399.05 771.4 400.60 771.8 402.81 772.1 405.66 772.4 409.12 772.8 413.18 773.1 417.80 773.5 422.95 773.8 428.59 774.2 434.67 774.5 441.16 774.9 448.00 775.2 455.14 775.6 462.53 775.9 470.12 776.3 477.84 776.6 485.64 777.0 493.47 777.3 501.25 777.7 508.95 778.0 516.49 778.4 523.82 778.8 530.89 779.1 537.64 779.4 544.02 779.8 549.99 780.1 555.50 780.5 560.51 780.8 564.99 781.2 568.89 781.5 572.20 781.9 574.87 782.2 576.91 782.6 578.28 782.9 578.99 783.3 579.02 783.6 578.37 784.0 577.05 784.3 575.07 784.7 572.45 785.0 569.20 785.4 565.34 785.8 560.92 786.1 555.95 786.4 550.48 786.8 544.54 787.1 538.19 787.5 531.47 787.8 524.42 788.2 517.11 788.5 509.58 788.9 501.90 789.2 494.12 789.6 486.29 789.9 478.48 790.3 470.75 790.6 463.14 791.0 455.73 791.3 448.56 791.7 441.69 792.0 435.17 792.4 429.05 792.8 423.37 793.1 418.17 793.4 413.50 793.8 409.39 794.1 405.87 794.5 402.97 794.8 400.71 795.2 399.10 795.5 398.16 795.9 397.89 796.2 398.30 796.6 399.38 796.9 401.13 797.3 403.53 797.6 406.56 798.0 410.20 798.3 414.43 798.7 419.22 799.0 424.52 799.4 430.29 799.8 436.51 800.1 443.11 800.4 450.05 800.8 457.27 801.1 464.73 801.5 472.37 801.8 480.13 802.2 487.95 802.5 495.77 802.9 503.54 803.2 511.20 803.6 518.69 803.9 525.95 804.3 532.94 804.6 539.59 805.0 545.86 805.3 551.70 805.7 557.08 806.0 561.94 806.4 566.25 806.8 569.98 807.1 573.10 807.4 575.60 807.8 577.44 808.1 578.62 808.5 579.12 808.8 578.95 809.2 578.11 809.5 576.59 809.9 574.42 810.2 571.61 810.6 568.18 810.9 564.15 811.3 559.56 811.6 554.43 812.0 548.82 812.3 542.75 812.7 536.28 813.0 529.45 813.4 522.32 813.8 514.93 814.1 507.35 814.4 499.63 814.8 491.82 815.1 483.99 815.5 476.19 815.8 468.48 816.2 460.92 816.5 453.57 816.9 446.48 817.2 439.70 817.6 433.29 817.9 427.29 818.3 421.74 818.6 416.69 819.0 412.18 819.3 408.24 819.7 404.90 820.0 402.18 820.4 400.11 820.8 398.69 821.1 397.95 821.4 397.88 821.8 398.49 822.1 399.77 822.5 401.71 822.8 404.30 823.1 406.53"/>
<path stroke="#ff7f0e" d="M49.00 539.11 L49.4 532.21 49.7 524.99 50.0 517.50 50.4 509.79 50.8 501.92 51.1 493.95 51.5 485.94 51.8 477.95 52.1 470.04 52.5 462.27 52.9 454.69 53.2 447.37 53.5 440.35 53.9 433.69 54.2 427.44 54.6 421.65 55.0 416.35 55.3 411.60 55.6 407.42 56.0 403.84 56.4 400.90 56.7 398.61 57.0 396.99 57.4 396.05 57.8 395.81 58.1 396.25 58.5 397.39 58.8 399.20 59.1 401.68 59.5 404.81 59.9 408.56 60.2 412.91 60.5 417.83 60.9 423.27 61.2 429.19 61.6 435.57 62.0 442.33 62.3 449.44 62.6 456.84 63.0 464.48 63.4 472.30 63.7 480.23 64.0 488.23 64.4 496.23 64.8 504.17 65.1 512.00 65.5 519.65 65.8 527.07 66.2 534.20 66.5 540.98 66.8 547.38 67.2 553.34 67.5 558.81 67.9 563.76 68.2 568.14 68.6 571.93 69.0 575.10 69.3 577.62 69.7 579.48 70.0 580.66 70.3 581.15 70.7 580.95 71.0 580.06 71.4 578.48 71.8 576.23 72.1 573.33 72.5 569.80 72.8 565.66 73.2 560.94 73.5 555.68 73.8 549.93 74.2 543.71 74.5 537.08 74.9 530.09 75.2 522.79 75.6 515.23 76.0 507.47 76.3 499.57 76.7 491.59 77.0 483.59 77.3 475.62 77.7 467.75 78.0 460.04 78.4 452.53 78.8 445.30 79.1 438.39 79.5 431.85 79.8 425.74 80.2 420.09 80.5 414.96 80.8 410.37 81.2 406.37 81.5 402.98 81.9 400.23 82.2 398.13 82.6 396.71 82.9 395.98 83.3 395.94 83.7 396.59 84.0 397.92 84.3 399.93 84.7 402.60 85.0 405.92 85.4 409.84 85.8 414.36 86.1 419.43 86.4 425.01 86.8 431.07 87.2 437.56 87.5 444.42 87.8 451.62 88.2 459.09 88.5 466.78 88.9 474.63 89.2 482.59 89.6 490.59 89.9 498.57 90.3 506.48 90.7 514.25 91.0 521.83 91.3 529.16 91.7 536.19 92.0 542.87 92.4 549.13 92.8 554.95 93.1 560.26 93.4 565.05 93.8 569.26 94.2 572.86 94.5 575.84 94.8 578.17 95.2 579.83 95.5 580.80 95.9 581.09 96.2 580.68 96.6 579.59 96.9 577.82 97.3 575.38 97.7 572.29 98.0 568.58 98.3 564.27 98.7 559.39 99.0 553.99 99.4 548.09 99.8 541.75 100.1 535.02 100.4 527.94 100.8 520.56 101.2 512.94 101.5 505.15 101.8 497.22 102.2 489.24 102.5 481.24 102.9 473.31 103.2 465.48 103.6 457.83 103.9 450.41 104.3 443.27 104.7 436.47 105.0 430.05 105.3 424.08 105.7 418.58 106.0 413.61 106.4 409.19 106.8 405.37 107.1 402.17 107.4 399.61 107.8 397.72 108.2 396.50 108.5 395.97 108.8 396.13 109.2 396.98 109.5 398.52 109.9 400.72 110.2 403.58 110.6 407.08 110.9 411.18 111.3 415.86 111.7 421.08 112.0 426.80 112.3 432.98 112.7 439.58 113.0 446.54 113.4 453.82 113.8 461.36 114.1 469.09 114.5 476.97 114.8 484.94 115.1 492.94 115.5 500.90 115.8 508.77 116.2 516.48 116.5 523.99 116.9 531.23 117.2 538.16 117.6 544.71 117.9 550.84 118.3 556.51 118.6 561.67 119.0 566.28 119.3 570.32 119.7 573.74 120.0 576.52 120.4 578.65 120.8 580.11 121.1 580.88 121.4 580.97 121.8 580.36 122.1 579.07 122.5 577.10 122.8 574.47 123.2 571.19 123.5 567.31 123.9 562.83 124.2 557.80 124.6 552.25 124.9 546.23 125.3 539.77 125.6 532.93 126.0 525.76 126.3 518.32 126.7 510.65 127.0 502.81 127.4 494.87 127.8 486.88 128.1 478.91 128.4 471.00 128.8 463.23 129.1 455.65 129.5 448.31 129.8 441.27 130.2 434.58 130.6 428.30 130.9 422.46 131.2 417.12 131.6 412.31 131.9 408.07 132.3 404.43 132.6 401.42 133.0 399.06 133.3 397.36 133.7 396.35 134.1 396.02 134.4 396.39 134.8 397.44 135.1 399.17 135.4 401.57 135.8 404.61 136.1 408.29 136.5 412.56 136.8 417.39 137.2 422.76 137.6 428.62 137.9 434.93 138.2 441.63 138.6 448.69 138.9 456.04 139.3 463.63 139.6 471.41 140.0 479.32 140.3 487.30 140.7 495.28 141.1 503.21 141.4 511.04 141.8 518.69 142.1 526.12 142.4 533.27 142.8 540.08 143.1 546.51 143.5 552.51 143.8 558.03 144.2 563.03 144.6 567.47 144.9 571.32 145.2 574.56 145.6 577.15 145.9 579.08 146.3 580.33 146.6 580.90 147.0 580.78 147.3 579.97 147.7 578.48 148.1 576.32 148.4 573.50 148.8 570.05 149.1 565.99 149.4 561.35 149.8 556.16 150.1 550.47 150.5 544.32 150.8 537.76 151.2 530.82 151.6 523.57 151.9 516.06 152.2 508.34 152.6 500.48 152.9 492.52 153.3 484.54 153.6 476.58 154.0 468.72 154.3 461.00 154.7 453.49 155.1 446.23 155.4 439.30 155.8 432.73 156.1 426.58 156.4 420.89 156.8 415.71 157.1 411.07 157.5 407.00 157.8 403.55 158.2 400.73 158.6 398.56 158.9 397.07 159.2 396.26 159.6 396.13 159.9 396.70 160.3 397.95 160.6 399.88 161.0 402.47 161.3 405.70 161.7 409.55 162.1 413.98 162.4 418.98 162.8 424.49 163.1 430.48 163.4 436.90 163.8 443.71 164.1 450.85 164.5 458.28 164.8 465.92 165.2 473.74 165.6 481.67 165.9 489.65 166.2 497.62 166.6 505.52 166.9 513.29 167.3 520.88 167.6 528.22 168.0 535.27 168.3 541.97 168.7 548.28 169.1 554.13 169.4 559.50 169.8 564.33 170.1 568.60 170.4 572.27 170.8 575.32 171.1 577.71 171.5 579.45 171.8 580.50 172.2 580.87 172.6 580.54 172.9 579.53 173.2 577.84 173.6 575.49 173.9 572.48 174.3 568.85 174.6 564.62 175.0 559.82 175.3 554.49 175.7 548.66 176.1 542.39 176.4 535.71 176.8 528.69 177.1 521.36 177.4 513.79 177.8 506.02 178.2 498.13 178.5 490.17 178.8 482.19 179.2 474.27 179.5 466.44 179.9 458.79 180.2 451.35 180.6 444.19 180.9 437.37 181.3 430.92 181.7 424.91 182.0 419.37 182.3 414.34 182.7 409.87 183.0 405.99 183.4 402.72 183.8 400.09 184.1 398.12 184.4 396.83 184.8 396.22 185.1 396.30 185.5 397.07 185.8 398.52 186.2 400.64 186.5 403.42 186.9 406.83 187.2 410.85 187.6 415.46 187.9 420.60 188.3 426.25 188.6 432.37 189.0 438.91 189.3 445.82 189.7 453.04 190.0 460.53 190.4 468.23 190.8 476.08 191.1 484.02 191.4 491.99 191.8 499.94 192.1 507.80 192.5 515.52 192.8 523.04 193.2 530.30 193.5 537.24 193.9 543.83 194.2 550.00 194.6 555.71 194.9 560.92 195.3 565.59 195.6 569.68 196.0 573.16 196.3 576.02 196.7 578.22 197.0 579.75 197.4 580.60 197.8 580.77 198.1 580.24 198.4 579.03 198.8 577.15 199.1 574.60 199.5 571.41 199.8 567.60 200.2 563.20 200.5 558.25 200.9 552.77 201.2 546.81 201.6 540.42 201.9 533.64 202.3 526.53 202.6 519.13 203.0 511.50 203.3 503.70 203.7 495.79 204.0 487.82 204.4 479.86 204.8 471.96 205.1 464.19 205.4 456.60 205.8 449.25 206.1 442.19 206.5 435.47 206.8 429.15 207.2 423.28 207.5 417.89 207.9 413.03 208.2 408.73 208.6 405.03 208.9 401.95 209.3 399.52 209.6 397.75 210.0 396.65 210.3 396.25 210.7 396.53 211.0 397.50 211.4 399.15 211.8 401.46 212.1 404.43 212.4 408.02 212.8 412.21 213.1 416.97 213.5 422.27 213.8 428.06 214.2 434.30 214.5 440.94 214.9 447.94 215.2 455.25 215.6 462.80 215.9 470.54 216.3 478.41 216.6 486.37 217.0 494.33 217.3 502.26 217.7 510.08 218.0 517.73 218.4 525.18 218.8 532.34 219.1 539.18 219.4 545.64 219.8 551.68 220.1 557.24 220.5 562.29 220.8 566.79 221.2 570.70 221.5 574.00 221.9 576.67 222.2 578.67 222.6 580.00 222.9 580.65 223.3 580.61 223.6 579.88 224.0 578.47 224.3 576.39 224.7 573.66 225.0 570.29 225.4 566.30 225.8 561.74 226.1 556.63 226.4 551.01 226.8 544.93 227.1 538.42 227.5 531.55 227.8 524.35 228.2 516.88 228.5 509.20 228.9 501.37 229.2 493.44 229.6 485.48 229.9 477.54 230.3 469.68 230.6 461.96 231.0 454.44 231.3 447.17 231.7 440.21 232.0 433.61 232.4 427.43 232.8 421.69 233.1 416.46 233.4 411.77 233.8 407.64 234.1 404.12 234.5 401.24 234.8 399.00 235.2 397.43 235.5 396.54 235.9 396.33 236.2 396.82 236.6 397.99 236.9 399.83 237.3 402.34 237.6 405.49 238.0 409.26 238.3 413.62 238.7 418.53 239.0 423.97 239.4 429.90 239.8 436.26 240.1 443.01 240.4 450.09 240.8 457.47 241.1 465.08 241.5 472.86 241.8 480.76 242.2 488.71 242.5 496.66 242.9 504.56 243.2 512.33 243.6 519.92 243.9 527.28 244.3 534.35 244.6 541.08 245.0 547.42 245.3 553.31 245.7 558.72 246.0 563.61 246.4 567.94 246.8 571.67 247.1 574.78 247.4 577.25 247.8 579.06 248.1 580.19 248.5 580.63 248.8 580.39 249.2 579.47 249.5 577.86 249.9 575.59 250.2 572.66 250.6 569.11 250.9 564.96 251.3 560.23 251.6 554.98 252.0 549.22 252.3 543.01 252.7 536.40 253.0 529.43 253.4 522.15 253.8 514.62 254.1 506.90 254.4 499.04 254.8 491.10 255.1 483.14 255.5 475.22 255.8 467.40 256.2 459.74 256.5 452.30 256.9 445.12 257.2 438.27 257.6 431.79 257.9 425.74 258.3 420.16 258.6 415.08 259.0 410.55 259.4 406.61 259.7 403.28 260.0 400.58 260.4 398.54 260.8 397.17 261.1 396.48 261.4 396.48 261.8 397.17 262.1 398.53 262.5 400.57 262.9 403.27 263.2 406.60 263.5 410.54 263.9 415.07 264.2 420.14 264.6 425.72 264.9 431.77 265.3 438.25 265.6 445.09 266.0 452.27 266.4 459.71 266.7 467.37 267.0 475.18 267.4 483.10 267.8 491.05 268.1 498.99 268.4 506.84 268.8 514.56 269.1 522.09 269.5 529.36 269.9 536.33 270.2 542.94 270.5 549.15 270.9 554.90 271.2 560.16 271.6 564.88 271.9 569.03 272.3 572.58 272.6 575.51 273.0 577.78 273.4 579.39 273.7 580.32 274.0 580.56 274.4 580.12 274.8 578.99 275.1 577.19 275.4 574.72 275.8 571.61 276.1 567.89 276.5 563.56 276.9 558.68 277.2 553.28 277.5 547.39 277.9 541.06 278.2 534.34 278.6 527.28 278.9 519.93 279.3 512.35 279.6 504.58 280.0 496.70 280.4 488.76 280.7 480.81 281.0 472.92 281.4 465.15 281.8 457.55 282.1 450.19 282.4 443.11 282.8 436.37 283.1 430.01 283.5 424.10 283.9 418.66 284.2 413.75 284.5 409.40 284.9 405.63 285.2 402.49 285.6 399.98 285.9 398.14 286.3 396.97 286.6 396.48 287.0 396.69 287.4 397.57 287.7 399.14 288.0 401.37 288.4 404.25 288.8 407.76 289.1 411.88 289.4 416.56 289.8 421.78 290.1 427.50 290.5 433.68 290.9 440.26 291.2 447.21 291.5 454.46 291.9 461.97 292.2 469.67 292.6 477.51 292.9 485.44 293.3 493.39 293.6 501.30 294.0 509.12 294.4 516.78 294.7 524.23 295.0 531.41 295.4 538.28 295.8 544.77 296.1 550.84 296.4 556.45 296.8 561.55 297.1 566.10 297.5 570.08 297.9 573.44 298.2 576.17 298.5 578.25 298.9 579.66 299.2 580.39 299.6 580.43 299.9 579.78 300.3 578.46 300.6 576.46 301.0 573.80 301.4 570.51 301.7 566.61 302.0 562.12 302.4 557.09 302.8 551.54 303.1 545.53 303.4 539.08 303.8 532.26 304.1 525.12 304.5 517.70 304.9 510.06 305.2 502.26 305.6 494.36 305.9 486.42 306.2 478.49 306.6 470.63 306.9 462.91 307.3 455.39 307.6 448.10 308.0 441.12 308.3 434.50 308.7 428.27 309.1 422.50 309.4 417.22 309.8 412.47 310.1 408.29 310.4 404.71 310.8 401.75 311.1 399.44 311.5 397.80 311.8 396.83 312.2 396.55 312.6 396.95 312.9 398.04 313.2 399.80 313.6 402.22 313.9 405.29 314.3 408.98 314.6 413.26 315.0 418.10 315.3 423.47 315.7 429.32 316.1 435.62 316.4 442.31 316.8 449.34 317.1 456.67 317.4 464.23 317.8 471.98 318.1 479.85 318.5 487.78 318.8 495.72 319.2 503.60 319.5 511.37 319.9 518.97 320.2 526.34 320.6 533.43 320.9 540.19 321.3 546.56 321.6 552.49 322.0 557.95 322.3 562.89 322.7 567.27 323.0 571.06 323.4 574.24 323.8 576.78 324.1 578.66 324.4 579.87 324.8 580.39 325.1 580.23 325.5 579.39 325.8 577.86 326.2 575.67 326.5 572.83 326.9 569.36 327.2 565.29 327.6 560.64 327.9 555.45 328.3 549.77 328.6 543.63 329.0 537.07 329.3 530.16 329.7 522.93 330.0 515.45 330.4 507.76 330.8 499.94 331.1 492.02 331.4 484.08 331.8 476.18 332.1 468.36 332.5 460.70 332.8 453.24 333.2 446.05 333.5 439.17 333.9 432.67 334.2 426.58 334.6 420.95 334.9 415.83 335.3 411.24 335.6 407.24 336.0 403.84 336.3 401.08 336.7 398.96 337.0 397.52 337.4 396.75 337.8 396.67 338.1 397.27 338.4 398.56 338.8 400.51 339.1 403.13 339.5 406.38 339.8 410.24 340.2 414.69 340.5 419.68 340.9 425.20 341.2 431.18 341.6 437.59 341.9 444.38 342.3 451.50 342.6 458.90 343.0 466.51 343.3 474.30 343.7 482.18 344.0 490.12 344.4 498.04 344.8 505.89 345.1 513.61 345.4 521.14 345.8 528.43 346.1 535.42 346.5 542.06 346.8 548.30 347.2 554.09 347.5 559.40 347.9 564.17 348.2 568.38 348.6 572.00 348.9 574.99 349.3 577.33 349.6 579.01 350.0 580.02 350.3 580.34 350.7 579.98 351.0 578.94 351.4 577.22 351.8 574.83 352.1 571.81 352.4 568.16 352.8 563.92 353.1 559.11 353.5 553.78 353.8 547.96 354.2 541.70 354.5 535.04 354.9 528.03 355.2 520.73 355.6 513.18 355.9 505.46 356.3 497.61 356.6 489.68 357.0 481.76 357.3 473.88 357.7 466.11 358.0 458.50 358.4 451.13 358.8 444.03 359.1 437.26 359.4 430.88 359.8 424.92 360.1 419.44 360.5 414.48 360.8 410.07 361.2 406.24 361.5 403.03 361.9 400.46 362.2 398.54 362.6 397.29 362.9 396.73 363.3 396.85 363.6 397.65 364.0 399.14 364.3 401.29 364.7 404.09 365.0 407.52 365.4 411.55 365.8 416.16 366.1 421.31 366.4 426.96 366.8 433.07 367.1 439.59 367.5 446.48 367.8 453.68 368.2 461.14 368.5 468.81 368.9 476.62 369.2 484.52 369.6 492.45 369.9 500.35 370.3 508.16 370.6 515.82 371.0 523.28 371.3 530.49 371.7 537.37 372.0 543.89 372.4 550.00 372.8 555.65 373.1 560.80 373.4 565.41 373.8 569.44 374.1 572.87 374.5 575.67 374.8 577.82 375.2 579.31 375.5 580.11 375.9 580.23 376.2 579.67 376.6 578.43 376.9 576.51 377.3 573.94 377.6 570.73 378.0 566.91 378.3 562.50 378.7 557.54 379.0 552.06 379.4 546.11 379.8 539.73 380.1 532.97 380.4 525.88 380.8 518.51 381.1 510.91 381.5 503.15 381.8 495.27 382.2 487.35 382.5 479.44 382.9 471.59 383.2 463.87 383.6 456.33 383.9 449.04 384.3 442.04 384.6 435.38 385.0 429.13 385.3 423.31 385.7 417.98 386.0 413.18 386.4 408.94 386.8 405.30 387.1 402.28 387.4 399.90 387.8 398.18 388.1 397.13 388.5 396.77 388.8 397.09 389.2 398.09 389.5 399.77 389.9 402.11 390.2 405.10 390.6 408.71 390.9 412.91 391.3 417.68 391.6 422.98 392.0 428.76 392.3 434.99 392.7 441.62 393.0 448.60 393.4 455.88 393.8 463.40 394.1 471.11 394.4 478.94 394.8 486.85 395.1 494.77 395.5 502.65 395.8 510.42 396.2 518.02 396.5 525.40 396.9 532.51 397.2 539.29 397.6 545.69 397.9 551.66 398.3 557.17 398.6 562.16 399.0 566.59 399.3 570.45 399.7 573.70 400.0 576.30 400.4 578.26 400.8 579.54 401.1 580.14 401.4 580.06 401.8 579.30 402.1 577.86 402.5 575.75 402.8 572.99 403.2 569.60 403.5 565.61 403.9 561.04 404.2 555.92 404.6 550.31 404.9 544.23 405.3 537.74 405.6 530.88 406.0 523.71 406.3 516.27 406.7 508.62 407.0 500.83 407.4 492.94 407.8 485.02 408.1 477.13 408.4 469.32 408.8 461.65 409.1 454.19 409.5 446.98 409.8 440.08 410.2 433.54 410.5 427.42 410.9 421.75 411.2 416.57 411.6 411.94 411.9 407.87 412.3 404.41 412.6 401.58 413.0 399.39 413.3 397.87 413.7 397.03 414.0 396.87 414.4 397.39 414.8 398.59 415.1 400.47 415.4 403.00 415.8 406.17 416.1 409.95 416.5 414.32 416.8 419.24 417.2 424.68 417.5 430.60 417.9 436.94 418.2 443.68 418.6 450.74 418.9 458.09 419.3 465.67 419.6 473.41 420.0 481.27 420.3 489.18 420.7 497.09 421.0 504.93 421.4 512.65 421.8 520.19 422.1 527.49 422.4 534.51 422.8 541.17 423.1 547.45 423.5 553.28 423.8 558.63 424.2 563.46 424.5 567.73 424.9 571.40 425.2 574.46 425.6 576.88 425.9 578.63 426.3 579.71 426.6 580.12 427.0 579.84 427.3 578.87 427.7 577.23 428.0 574.94 428.4 571.99 428.8 568.42 429.1 564.26 429.4 559.53 429.8 554.27 430.1 548.52 430.5 542.32 430.8 535.72 431.2 528.77 431.5 521.52 431.9 514.02 432.2 506.33 432.6 498.51 432.9 490.61 433.3 482.70 433.6 474.83 434.0 467.06 434.3 459.46 434.7 452.07 435.0 444.95 435.4 438.16 435.8 431.74 436.1 425.75 436.4 420.23 436.8 415.21 437.1 410.74 437.5 406.86 437.8 403.58 438.2 400.94 438.5 398.95 438.9 397.63 439.2 396.98 439.6 397.02 439.9 397.75 440.3 399.15 440.6 401.21 441.0 403.93 441.3 407.28 441.7 411.24 442.0 415.77 442.4 420.85 442.8 426.42 443.1 432.47 443.4 438.93 443.8 445.76 444.1 452.91 444.5 460.32 444.8 467.95 445.2 475.73 445.5 483.60 445.9 491.51 446.2 499.40 446.6 507.21 446.9 514.87 447.3 522.34 447.6 529.56 448.0 536.47 448.3 543.02 448.7 549.16 449.0 554.85 449.4 560.05 449.8 564.71 450.1 568.81 450.4 572.30 450.8 575.17 451.1 577.39 451.5 578.95 451.8 579.83 452.2 580.03 452.5 579.55 452.9 578.39 453.2 576.55 453.6 574.06 453.9 570.94 454.3 567.19 454.6 562.86 455.0 557.98 455.3 552.57 455.7 546.69 456.0 540.37 456.4 533.67 456.8 526.63 457.1 519.31 457.4 511.75 457.8 504.02 458.1 496.18 458.5 488.28 458.8 480.38 459.2 472.54 459.5 464.82 459.9 457.28 460.2 449.97 460.6 442.95 460.9 436.27 461.3 429.98 461.6 424.13 462.0 418.75 462.3 413.90 462.7 409.60 463.0 405.90 463.4 402.81 463.8 400.36 464.1 398.56 464.4 397.44 464.8 397.00 465.1 397.24 465.5 398.16 465.8 399.76 466.2 402.02 466.5 404.92 466.9 408.45 467.2 412.58 467.6 417.27 467.9 422.49 468.3 428.21 468.6 434.37 469.0 440.94 469.3 447.87 469.7 455.09 470.0 462.57 470.4 470.24 470.8 478.05 471.1 485.93 471.4 493.83 471.8 501.70 472.1 509.46 472.5 517.07 472.8 524.46 473.2 531.59 473.5 538.39 473.9 544.82 474.2 550.84 474.6 556.38 474.9 561.42 475.3 565.91 475.6 569.83 476.0 573.14 476.3 575.82 476.7 577.84 477.0 579.20 477.4 579.89 477.8 579.89 478.1 579.20 478.4 577.84 478.8 575.82 479.1 573.14 479.5 569.83 479.8 565.92 480.2 561.42 480.5 556.38 480.9 550.84 481.2 544.83 481.6 538.40 481.9 531.60 482.3 524.47 482.6 517.08 483.0 509.48 483.3 501.71 483.7 493.85 484.0 485.95 484.4 478.07 484.8 470.27 485.1 462.60 485.4 455.13 485.8 447.91 486.1 440.99 486.5 434.42 486.8 428.26 487.2 422.55 487.5 417.33 487.9 412.64 488.2 408.52 488.6 404.99 488.9 402.09 489.3 399.83 489.6 398.24 490.0 397.32 490.3 397.07 490.7 397.52 491.0 398.64 491.4 400.43 491.8 402.88 492.1 405.96 492.4 409.67 492.8 413.96 493.1 418.81 493.5 424.18 493.8 430.02 494.2 436.31 494.5 442.98 494.9 450.00 495.2 457.30 495.6 464.83 495.9 472.54 496.3 480.37 496.6 488.26 497.0 496.15 497.3 503.98 497.7 511.70 498.0 519.24 498.4 526.56 498.7 533.59 499.1 540.28 499.4 546.59 499.8 552.47 500.1 557.86 500.5 562.74 500.8 567.06 501.2 570.80 501.5 573.93 501.9 576.41 502.2 578.24 502.6 579.40 502.9 579.88 503.3 579.68 503.6 578.80 504.0 577.24 504.3 575.03 504.7 572.16 505.0 568.68 505.4 564.59 505.7 559.94 506.1 554.75 506.4 549.07 506.8 542.93 507.1 536.39 507.5 529.50 507.8 522.30 508.2 514.84 508.5 507.19 508.9 499.40 509.2 491.53 509.6 483.63 509.9 475.78 510.3 468.01 510.6 460.41 511.0 453.01 511.3 445.87 511.7 439.06 512.0 432.61 512.4 426.58 512.8 421.01 513.1 415.95 513.5 411.43 513.8 407.48 514.1 404.14 514.5 401.43 514.8 399.37 515.2 397.97 515.5 397.25 515.9 397.21 516.2 397.85 516.6 399.17 517.0 401.15 517.3 403.79 517.6 407.06 518.0 410.93 518.3 415.39 518.7 420.39 519.0 425.90 519.4 431.88 519.8 438.27 520.1 445.05 520.5 452.15 520.8 459.52 521.1 467.10 521.5 474.84 521.8 482.69 522.2 490.58 522.5 498.45 522.9 506.25 523.2 513.92 523.6 521.40 524.0 528.63 524.3 535.56 524.6 542.14 525.0 548.32 525.3 554.05 525.7 559.30 526.0 564.01 526.4 568.16 526.8 571.72 527.1 574.65 527.5 576.95 527.8 578.58 528.1 579.54 528.5 579.82 528.8 579.42 529.2 578.34 529.5 576.59 529.9 574.18 530.2 571.13 530.6 567.47 531.0 563.22 531.3 558.41 531.6 553.07 532.0 547.26 532.3 541.01 532.7 534.36 533.0 527.38 533.4 520.10 533.8 512.59 534.1 504.90 534.5 497.08 534.8 489.20 535.1 481.32 535.5 473.49 535.8 465.78 536.2 458.23 536.5 450.91 536.9 443.87 537.2 437.16 537.6 430.84 538.0 424.94 538.3 419.52 538.6 414.62 539.0 410.27 539.3 406.50 539.7 403.34 540.0 400.82 540.4 398.96 540.8 397.76 541.1 397.24 541.5 397.40 541.8 398.24 542.1 399.76 542.5 401.93 542.8 404.75 543.2 408.20 543.5 412.25 543.9 416.86 544.2 422.02 544.6 427.66 545.0 433.76 545.3 440.27 545.6 447.14 546.0 454.32 546.3 461.75 546.7 469.38 547.0 477.15 547.4 485.01 547.8 492.90 548.1 500.75 548.5 508.51 548.8 516.12 549.1 523.52 549.5 530.67 549.8 537.49 550.2 543.96 550.5 550.00 550.9 555.59 551.2 560.68 551.6 565.23 552.0 569.21 552.3 572.58 552.6 575.32 553.0 577.42 553.3 578.86 553.7 579.62 554.0 579.70 554.4 579.10 554.8 577.82 555.1 575.87 555.5 573.28 555.8 570.05 556.1 566.21 556.5 561.80 556.8 556.83 557.2 551.36 557.5 545.42 557.9 539.05 558.2 532.30 558.6 525.23 559.0 517.89 559.3 510.32 559.6 502.60 560.0 494.76 560.3 486.88 560.7 479.02 561.0 471.22 561.4 463.55 561.8 456.07 562.1 448.84 562.4 441.89 562.8 435.30 563.1 429.10 563.5 423.35 563.9 418.08 564.2 413.34 564.5 409.16 564.9 405.58 565.2 402.61 565.6 400.28 565.9 398.61 566.3 397.61 566.6 397.29 567.0 397.65 567.4 398.69 567.7 400.40 568.0 402.77 568.4 405.77 568.8 409.40 569.1 413.61 569.4 418.38 569.8 423.68 570.1 429.46 570.5 435.68 570.9 442.30 571.2 449.25 571.5 456.51 571.9 464.00 572.2 471.67 572.6 479.47 572.9 487.33 573.3 495.21 573.6 503.03 574.0 510.75 574.4 518.30 574.7 525.63 575.0 532.67 575.4 539.39 575.8 545.73 576.1 551.65 576.4 557.09 576.8 562.02 577.1 566.40 577.5 570.19 577.9 573.38 578.2 575.94 578.5 577.84 578.9 579.08 579.2 579.64 579.6 579.52 579.9 578.72 580.3 577.24 580.6 575.11 581.0 572.33 581.4 568.92 581.7 564.91 582.0 560.33 582.4 555.22 582.8 549.61 583.1 543.54 583.4 537.06 583.8 530.22 584.1 523.07 584.5 515.66 584.9 508.05 585.2 500.29 585.5 492.44 585.9 484.57 586.2 476.72 586.6 468.97 586.9 461.35 587.3 453.95 587.6 446.79 588.0 439.96 588.3 433.48 588.7 427.41 589.0 421.80 589.4 416.69 589.8 412.12 590.1 408.11 590.4 404.70 590.8 401.92 591.1 399.79 591.5 398.32 591.8 397.52 592.2 397.40 592.5 397.96 592.9 399.20 593.2 401.10 593.6 403.66 593.9 406.84 594.3 410.64 594.6 415.02 595.0 419.95 595.3 425.38 595.7 431.29 596.0 437.63 596.4 444.35 596.8 451.39 597.1 458.71 597.4 466.26 597.8 473.97 598.1 481.78 598.5 489.65 598.8 497.51 599.2 505.30 599.5 512.97 599.9 520.45 600.2 527.70 600.6 534.65 600.9 541.26 601.3 547.47 601.6 553.25 602.0 558.54 602.3 563.30 602.7 567.51 603.0 571.13 603.4 574.13 603.8 576.50 604.1 578.20 604.4 579.24 604.8 579.60 605.1 579.28 605.5 578.28 605.8 576.61 606.2 574.28 606.5 571.32 606.9 567.73 607.2 563.56 607.6 558.82 607.9 553.56 608.3 547.82 608.6 541.63 609.0 535.05 609.3 528.11 609.7 520.89 610.0 513.42 610.4 505.76 610.8 497.98 611.1 490.12 611.4 482.26 611.8 474.44 612.1 466.73 612.5 459.17 612.8 451.84 613.2 444.78 613.5 438.05 613.9 431.70 614.2 425.76 614.6 420.30 614.9 415.35 615.3 410.94 615.6 407.11 616.0 403.89 616.3 401.30 616.7 399.36 617.0 398.09 617.4 397.49 617.8 397.57 618.1 398.33 618.4 399.76 618.8 401.86 619.1 404.60 619.5 407.96 619.8 411.93 620.2 416.47 620.5 421.55 620.9 427.13 621.2 433.16 621.6 439.61 621.9 446.42 622.3 453.55 622.6 460.93 623.0 468.53 623.3 476.27 623.7 484.10 624.0 491.97 624.4 499.81 624.8 507.56 625.1 515.17 625.4 522.59 625.8 529.74 626.1 536.59 626.5 543.09 626.8 549.17 627.2 554.80 627.5 559.94 627.9 564.54 628.2 568.57 628.6 572.01 628.9 574.82 629.3 576.99 629.6 578.50 630.0 579.34 630.3 579.50 630.7 578.98 631.0 577.78 631.4 575.92 631.8 573.41 632.1 570.26 632.4 566.50 632.8 562.16 633.1 557.27 633.5 551.87 633.8 545.99 634.2 539.69 634.5 533.00 634.9 525.98 635.2 518.69 635.6 511.16 635.9 503.47 636.3 495.67 636.6 487.81 637.0 479.96 637.3 472.17 637.7 464.50 638.0 457.02 638.4 449.77 638.8 442.80 639.1 436.18 639.4 429.95 639.8 424.16 640.1 418.85 640.5 414.05 640.8 409.82 641.2 406.17 641.5 403.13 641.9 400.73 642.2 398.99 642.6 397.92 642.9 397.52 643.3 397.80 643.6 398.76 644.0 400.38 644.3 402.67 644.7 405.59 645.0 409.14 645.4 413.27 645.8 417.97 646.1 423.19 646.4 428.91 646.8 435.06 647.1 441.62 647.5 448.52 647.8 455.72 648.2 463.17 648.5 470.81 648.9 478.58 649.2 486.42 649.6 494.27 649.9 502.09 650.3 509.80 650.6 517.35 651.0 524.69 651.3 531.76 651.7 538.50 652.0 544.87 652.4 550.82 652.8 556.31 653.1 561.29 653.4 565.72 653.8 569.58 654.1 572.83 654.5 575.46 654.8 577.43 655.2 578.74 655.5 579.38 655.9 579.34 656.2 578.62 656.6 577.23 656.9 575.18 657.3 572.48 657.6 569.15 658.0 565.22 658.3 560.72 658.7 555.68 659.0 550.14 659.4 544.14 659.8 537.72 660.1 530.93 660.4 523.83 660.8 516.47 661.1 508.90 661.5 501.17 661.8 493.35 662.2 485.50 662.5 477.67 662.9 469.91 663.2 462.30 663.6 454.88 663.9 447.72 664.3 440.86 664.6 434.35 665.0 428.25 665.3 422.60 665.7 417.44 666.0 412.81 666.4 408.75 666.8 405.28 667.1 402.43 667.4 400.22 667.8 398.68 668.1 397.80 668.5 397.60 668.8 398.08 669.2 399.24 669.5 401.06 669.9 403.53 670.2 406.64 670.6 410.36 670.9 414.66 671.3 419.51 671.6 424.88 672.0 430.72 672.3 436.99 672.7 443.65 673.0 450.64 673.4 457.92 673.8 465.42 674.1 473.09 674.4 480.88 674.8 488.73 675.1 496.57 675.5 504.36 675.8 512.02 676.2 519.51 676.5 526.77 676.9 533.74 677.2 540.38 677.6 546.62 677.9 552.44 678.3 557.77 678.6 562.59 679.0 566.86 679.3 570.54 679.7 573.60 680.0 576.04 680.4 577.82 680.8 578.93 681.1 579.37 681.4 579.13 681.8 578.21 682.1 576.62 682.5 574.38 682.8 571.49 683.2 567.99 683.5 563.89 683.9 559.23 684.2 554.04 684.6 548.37 684.9 542.24 685.3 535.72 685.6 528.84 686.0 521.66 686.3 514.24 686.7 506.62 687.0 498.87 687.4 491.04 687.8 483.19 688.1 475.38 688.4 467.67 688.8 460.12 689.1 452.78 689.5 445.70 689.8 438.94 690.2 432.56 690.5 426.59 690.9 421.08 691.2 416.08 691.6 411.62 691.9 407.73 692.3 404.44 692.6 401.78 693.0 399.77 693.3 398.42 693.7 397.75 694.0 397.75 694.4 398.43 694.8 399.78 695.1 401.79 695.4 404.45 695.8 407.74 696.1 411.63 696.5 416.09 696.8 421.09 697.2 426.60 697.5 432.57 697.9 438.96 698.2 445.71 698.6 452.79 698.9 460.13 699.3 467.68 699.6 475.39 700.0 483.19 700.3 491.04 700.7 498.87 701.0 506.61 701.4 514.23 701.8 521.65 702.1 528.82 702.4 535.69 702.8 542.21 703.1 548.33 703.5 554.00 703.8 559.19 704.2 563.84 704.5 567.93 704.9 571.43 705.2 574.32 705.6 576.56 705.9 578.14 706.3 579.05 706.6 579.29 707.0 578.85 707.3 577.74 707.7 575.96 708.0 573.53 708.4 570.46 708.8 566.78 709.1 562.52 709.4 557.70 709.8 552.37 710.1 546.56 710.5 540.32 710.8 533.69 711.2 526.73 711.5 519.48 711.9 512.00 712.2 504.34 712.6 496.56 712.9 488.73 713.3 480.89 713.6 473.11 714.0 465.45 714.3 457.96 714.7 450.69 715.0 443.71 715.4 437.07 715.8 430.80 716.1 424.97 716.4 419.61 716.8 414.77 717.1 410.48 717.5 406.76 717.8 403.66 718.2 401.20 718.5 399.38 718.9 398.23 719.2 397.75 719.6 397.95 719.9 398.83 720.3 400.37 720.6 402.58 721.0 405.42 721.3 408.89 721.7 412.95 722.0 417.57 722.4 422.72 722.8 428.36 723.1 434.45 723.4 440.95 723.8 447.80 724.1 454.95 724.5 462.35 724.8 469.95 725.2 477.69 725.5 485.50 725.9 493.34 726.2 501.15 726.6 508.85 726.9 516.41 727.3 523.76 727.6 530.84 728.0 537.61 728.3 544.01 728.7 550.00 729.0 555.53 729.4 560.55 729.8 565.04 730.1 568.96 730.4 572.28 730.8 574.97 731.1 577.02 731.5 578.40 731.8 579.12 732.2 579.16 732.5 578.52 732.9 577.21 733.2 575.24 733.6 572.62 733.9 569.37 734.3 565.52 734.6 561.10 735.0 556.13 735.3 550.66 735.7 544.72 736.0 538.37 736.4 531.64 736.8 524.59 737.1 517.27 737.4 509.74 737.8 502.05 738.1 494.26 738.5 486.42 738.8 478.60 739.2 470.86 739.5 463.25 739.9 455.82 740.2 448.64 740.6 441.76 740.9 435.22 741.3 429.09 741.6 423.40 742.0 418.19 742.3 413.51 742.7 409.39 743.0 405.86 743.4 402.94 743.8 400.67 744.1 399.05 744.4 398.09 744.8 397.82 745.1 398.22 745.5 399.29 745.8 401.03 746.2 403.42 746.5 406.45 746.9 410.09 747.2 414.31 747.6 419.09 747.9 424.38 748.3 430.16 748.6 436.37 749.0 442.97 749.3 449.90 749.7 457.13 750.0 464.59 750.4 472.23 750.8 479.99 751.1 487.81 751.4 495.64 751.8 503.41 752.1 511.08 752.5 518.57 752.8 525.84 753.2 532.83 753.5 539.49 753.9 545.77 754.2 551.62 754.6 557.00 754.9 561.87 755.3 566.19 755.6 569.93 756.0 573.07 756.3 575.57 756.7 577.42 757.0 578.61 757.4 579.13 757.8 578.97 758.1 578.13 758.4 576.63 758.8 574.46 759.1 571.66 759.5 568.23 759.8 564.21 760.2 559.63 760.5 554.51 760.9 548.91 761.2 542.85 761.6 536.38 761.9 529.56 762.3 522.44 762.6 515.05 763.0 507.48 763.3 499.76 763.7 491.95 764.0 484.12 764.4 476.32 764.8 468.62 765.1 461.06 765.4 453.71 765.8 446.62 766.1 439.84 766.5 433.42 766.8 427.42 767.2 421.87 767.5 416.81 767.9 412.30 768.2 408.35 768.6 405.00 768.9 402.28 769.3 400.19 769.6 398.77 770.0 398.02 770.3 397.94 770.7 398.54 771.0 399.80 771.4 401.74 771.8 404.31 772.1 407.52 772.4 411.33 772.8 415.72 773.1 420.65 773.5 426.09 773.8 431.99 774.2 438.31 774.5 445.01 774.9 452.03 775.2 459.33 775.6 466.84 775.9 474.51 776.3 482.29 776.6 490.12 777.0 497.93 777.3 505.67 777.7 513.28 778.0 520.71 778.4 527.90 778.8 534.79 779.1 541.34 779.4 547.49 779.8 553.20 780.1 558.43 780.5 563.14 780.8 567.29 781.2 570.85 781.5 573.80 781.9 576.11 782.2 577.77 782.6 578.76 782.9 579.07 783.3 578.72 783.6 577.68 784.0 575.98 784.3 573.63 784.7 570.65 785.0 567.05 785.4 562.86 785.8 558.12 786.1 552.86 786.4 547.12 786.8 540.94 787.1 534.37 787.5 527.46 787.8 520.26 788.2 512.82 788.5 505.20 788.9 497.46 789.2 489.65 789.6 481.83 789.9 474.06 790.3 466.39 790.6 458.90 791.0 451.62 791.3 444.62 791.7 437.95 792.0 431.66 792.4 425.78 792.8 420.38 793.1 415.49 793.4 411.14 793.8 407.37 794.1 404.20 794.5 401.67 794.8 399.78 795.2 398.55 795.5 398.00 795.9 398.12 796.2 398.91 796.6 400.38 796.9 402.50 797.3 405.26 797.6 408.65 798.0 412.63 798.3 417.17 798.7 422.25 799.0 427.83 799.4 433.85 799.8 440.29 800.1 447.08 800.4 454.18 800.8 461.54 801.1 469.10 801.5 476.80 801.8 484.60 802.2 492.42 802.5 500.21 802.9 507.91 803.2 515.47 803.6 522.82 803.9 529.92 804.3 536.72 804.6 543.15 805.0 549.17 805.3 554.74 805.7 559.82 806.0 564.36 806.4 568.34 806.8 571.72 807.1 574.48 807.4 576.59 807.8 578.05 808.1 578.85 808.5 578.96 808.8 578.41 809.2 577.18 809.5 575.29 809.9 572.75 810.2 569.58 810.6 565.81 810.9 561.46 811.3 556.57 811.6 551.17 812.0 545.30 812.3 539.01 812.7 532.34 813.0 525.34 813.4 518.07 813.8 510.58 814.1 502.92 814.4 495.16 814.8 487.34 815.1 479.54 815.5 471.80 815.8 464.19 816.2 456.76 816.5 449.56 816.9 442.66 817.2 436.10 817.6 429.93 817.9 424.20 818.3 418.95 818.6 414.21 819.0 410.03 819.3 406.44 819.7 403.46 820.0 401.11 820.4 399.42 820.8 398.39 821.1 398.04 821.4 398.36 821.8 399.35 822.1 401.01 822.5 403.32 822.8 406.26 823.1 408.74"/>
</g>
<rect x="49.5" y="349.5" width="775" height="280" fill="none" stroke="#000" stroke-width="1.11" stroke-linejoin="miter"/>
<path d="M49.5 629.5 v4.86 M204.5 629.5 v4.86 M359.5 629.5 v4.86 M514.5 629.5 v4.86 M669.5 629.5 v4.86 M824.5 629.5 v4.86 M49.5 625.5 h-4.86 M49.5 580.5 h-4.86 M49.5 534.5 h-4.86 M49.5 489.5 h-4.86 M49.5 443.5 h-4.86 M49.5 398.5 h-4.86 M49.5 352.5 h-4.86" stroke="#000" stroke-width="1.11" fill="none"/>
<g class="t">
<text transform="translate(17.93 653.00) scale(1.1359 1)" font-size="21.50">13900</text>
<text transform="translate(172.93 653.00) scale(1.1359 1)" font-size="21.50">14000</text>
<text transform="translate(327.93 653.00) scale(1.1359 1)" font-size="21.50">14100</text>
<text transform="translate(482.93 653.00) scale(1.1359 1)" font-size="21.50">14200</text>
<text transform="translate(637.93 653.00) scale(1.1359 1)" font-size="21.50">14300</text>
<text transform="translate(792.93 653.00) scale(1.1359 1)" font-size="21.50">14400</text>
<text transform="translate(25.51 633.00) scale(1.1085 1)" font-size="21.50">3</text>
<text transform="translate(10.68 637.00) scale(1.2344 1.3868)" font-size="21.50">−</text>
<text transform="translate(25.49 587.00) scale(1.1302 1)" font-size="21.50">2</text>
<text transform="translate(10.68 591.00) scale(1.2344 1.3868)" font-size="21.50">−</text>
<text transform="translate(25.61 542.00) scale(1.0084 1)" font-size="21.50">1</text>
<text transform="translate(10.68 546.00) scale(1.2344 1.3868)" font-size="21.50">−</text>
<text transform="translate(27.08 496.00) scale(1.1299 1)" font-size="21.50">0</text>
<text transform="translate(26.76 451.00) scale(1.1141 1)" font-size="21.50">1</text>
<text transform="translate(26.83 405.00) scale(1.1998 1)" font-size="21.50">2</text>
<text transform="translate(26.99 360.00) scale(1.1310 1)" font-size="21.50">3</text>
</g>
<rect x="710.20" y="358.60" width="104.40" height="61.90" rx="3.9" fill="rgba(255,255,255,0.8)" stroke="rgba(204,204,204,0.8)" stroke-width="1.39"/>
<path d="M717.74 373.20 h38.9" stroke="#1f77b4" stroke-width="2.08" stroke-linecap="square"/>
<path d="M717.74 401.00 h38.9" stroke="#ff7f0e" stroke-width="2.08" stroke-linecap="square"/>
<g class="t">
<text transform="translate(772.80 381.00) scale(1.1142 1)" font-size="20.00">x(t)</text>
<text transform="translate(772.42 409.00) scale(1.1278 1)" font-size="20.00">y(t)</text>
</g>
<g class="t"><text transform="translate(389.75 677.00) scale(1.1712 1)" font-size="21.50">temps [s]</text></g>
</svg>
</body></html>
